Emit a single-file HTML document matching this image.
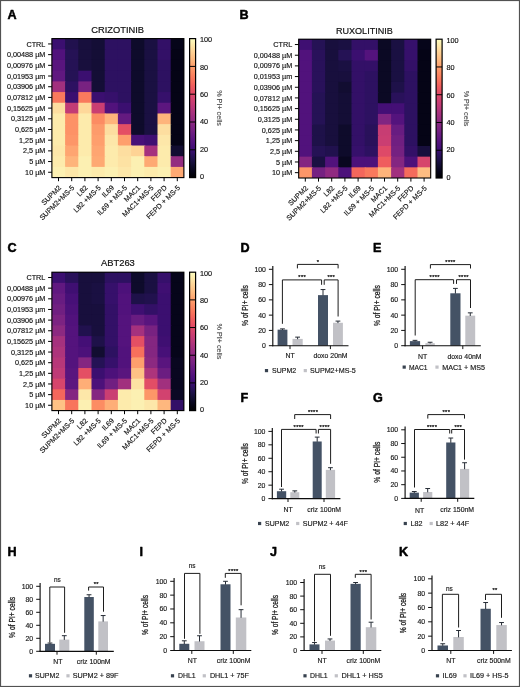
<!DOCTYPE html>
<html lang="en"><head><meta charset="utf-8"><title>Figure</title>
<style>html,body{margin:0;padding:0;background:#fff;}svg{display:block;}text{white-space:pre;}</style>
</head><body>
<svg width="520" height="687" viewBox="0 0 520 687" font-family='"Liberation Sans", Arial, Helvetica, sans-serif'>
<rect x="0.00" y="0.00" width="520.00" height="687.00" fill="#fff"/>
<g>
<rect x="51.90" y="38.60" width="132.00" height="139.00" fill="#1a1040"/>
<rect x="51.90" y="38.60" width="14.20" height="11.69" fill="#3b0f70"/>
<rect x="65.10" y="38.60" width="14.20" height="11.69" fill="#21114e"/>
<rect x="78.30" y="38.60" width="14.20" height="11.69" fill="#180f3d"/>
<rect x="91.50" y="38.60" width="14.20" height="11.69" fill="#140e36"/>
<rect x="104.70" y="38.60" width="14.20" height="11.69" fill="#2d1161"/>
<rect x="117.90" y="38.60" width="14.20" height="11.69" fill="#2d1161"/>
<rect x="131.10" y="38.60" width="14.20" height="11.69" fill="#0e0b2b"/>
<rect x="144.30" y="38.60" width="14.20" height="11.69" fill="#1a1042"/>
<rect x="157.50" y="38.60" width="14.20" height="11.69" fill="#331067"/>
<rect x="170.70" y="38.60" width="13.20" height="11.69" fill="#06051a"/>
<rect x="51.90" y="49.29" width="14.20" height="11.69" fill="#51127c"/>
<rect x="65.10" y="49.29" width="14.20" height="11.69" fill="#251255"/>
<rect x="78.30" y="49.29" width="14.20" height="11.69" fill="#180f3d"/>
<rect x="91.50" y="49.29" width="14.20" height="11.69" fill="#140e36"/>
<rect x="104.70" y="49.29" width="14.20" height="11.69" fill="#2d1161"/>
<rect x="117.90" y="49.29" width="14.20" height="11.69" fill="#2d1161"/>
<rect x="131.10" y="49.29" width="14.20" height="11.69" fill="#0e0b2b"/>
<rect x="144.30" y="49.29" width="14.20" height="11.69" fill="#1a1042"/>
<rect x="157.50" y="49.29" width="14.20" height="11.69" fill="#331067"/>
<rect x="170.70" y="49.29" width="13.20" height="11.69" fill="#050416"/>
<rect x="51.90" y="59.98" width="14.20" height="11.69" fill="#59157e"/>
<rect x="65.10" y="59.98" width="14.20" height="11.69" fill="#251255"/>
<rect x="78.30" y="59.98" width="14.20" height="11.69" fill="#180f3d"/>
<rect x="91.50" y="59.98" width="14.20" height="11.69" fill="#140e36"/>
<rect x="104.70" y="59.98" width="14.20" height="11.69" fill="#2d1161"/>
<rect x="117.90" y="59.98" width="14.20" height="11.69" fill="#2d1161"/>
<rect x="131.10" y="59.98" width="14.20" height="11.69" fill="#0e0b2b"/>
<rect x="144.30" y="59.98" width="14.20" height="11.69" fill="#1a1042"/>
<rect x="157.50" y="59.98" width="14.20" height="11.69" fill="#2d1161"/>
<rect x="170.70" y="59.98" width="13.20" height="11.69" fill="#050416"/>
<rect x="51.90" y="70.68" width="14.20" height="11.69" fill="#601880"/>
<rect x="65.10" y="70.68" width="14.20" height="11.69" fill="#251255"/>
<rect x="78.30" y="70.68" width="14.20" height="11.69" fill="#3b0f70"/>
<rect x="91.50" y="70.68" width="14.20" height="11.69" fill="#140e36"/>
<rect x="104.70" y="70.68" width="14.20" height="11.69" fill="#2d1161"/>
<rect x="117.90" y="70.68" width="14.20" height="11.69" fill="#2d1161"/>
<rect x="131.10" y="70.68" width="14.20" height="11.69" fill="#0e0b2b"/>
<rect x="144.30" y="70.68" width="14.20" height="11.69" fill="#1a1042"/>
<rect x="157.50" y="70.68" width="14.20" height="11.69" fill="#2d1161"/>
<rect x="170.70" y="70.68" width="13.20" height="11.69" fill="#050416"/>
<rect x="51.90" y="81.37" width="14.20" height="11.69" fill="#a1307e"/>
<rect x="65.10" y="81.37" width="14.20" height="11.69" fill="#2d1161"/>
<rect x="78.30" y="81.37" width="14.20" height="11.69" fill="#782281"/>
<rect x="91.50" y="81.37" width="14.20" height="11.69" fill="#140e36"/>
<rect x="104.70" y="81.37" width="14.20" height="11.69" fill="#2d1161"/>
<rect x="117.90" y="81.37" width="14.20" height="11.69" fill="#2d1161"/>
<rect x="131.10" y="81.37" width="14.20" height="11.69" fill="#0e0b2b"/>
<rect x="144.30" y="81.37" width="14.20" height="11.69" fill="#1a1042"/>
<rect x="157.50" y="81.37" width="14.20" height="11.69" fill="#2d1161"/>
<rect x="170.70" y="81.37" width="13.20" height="11.69" fill="#050416"/>
<rect x="51.90" y="92.06" width="14.20" height="11.69" fill="#f9795d"/>
<rect x="65.10" y="92.06" width="14.20" height="11.69" fill="#3b0f70"/>
<rect x="78.30" y="92.06" width="14.20" height="11.69" fill="#f9795d"/>
<rect x="91.50" y="92.06" width="14.20" height="11.69" fill="#3b0f70"/>
<rect x="104.70" y="92.06" width="14.20" height="11.69" fill="#36106b"/>
<rect x="117.90" y="92.06" width="14.20" height="11.69" fill="#2d1161"/>
<rect x="131.10" y="92.06" width="14.20" height="11.69" fill="#0e0b2b"/>
<rect x="144.30" y="92.06" width="14.20" height="11.69" fill="#1a1042"/>
<rect x="157.50" y="92.06" width="14.20" height="11.69" fill="#36106b"/>
<rect x="170.70" y="92.06" width="13.20" height="11.69" fill="#050416"/>
<rect x="51.90" y="102.75" width="14.20" height="11.69" fill="#fddea0"/>
<rect x="65.10" y="102.75" width="14.20" height="11.69" fill="#c23b75"/>
<rect x="78.30" y="102.75" width="14.20" height="11.69" fill="#fed89a"/>
<rect x="91.50" y="102.75" width="14.20" height="11.69" fill="#ca3e72"/>
<rect x="104.70" y="102.75" width="14.20" height="11.69" fill="#51127c"/>
<rect x="117.90" y="102.75" width="14.20" height="11.69" fill="#3b0f70"/>
<rect x="131.10" y="102.75" width="14.20" height="11.69" fill="#0e0b2b"/>
<rect x="144.30" y="102.75" width="14.20" height="11.69" fill="#1a1042"/>
<rect x="157.50" y="102.75" width="14.20" height="11.69" fill="#5c167f"/>
<rect x="170.70" y="102.75" width="13.20" height="11.69" fill="#050416"/>
<rect x="51.90" y="113.45" width="14.20" height="11.69" fill="#fdebac"/>
<rect x="65.10" y="113.45" width="14.20" height="11.69" fill="#fd9266"/>
<rect x="78.30" y="113.45" width="14.20" height="11.69" fill="#fdebac"/>
<rect x="91.50" y="113.45" width="14.20" height="11.69" fill="#fc8c63"/>
<rect x="104.70" y="113.45" width="14.20" height="11.69" fill="#feb47b"/>
<rect x="117.90" y="113.45" width="14.20" height="11.69" fill="#641a80"/>
<rect x="131.10" y="113.45" width="14.20" height="11.69" fill="#0e0b2b"/>
<rect x="144.30" y="113.45" width="14.20" height="11.69" fill="#1a1042"/>
<rect x="157.50" y="113.45" width="14.20" height="11.69" fill="#feb47b"/>
<rect x="170.70" y="113.45" width="13.20" height="11.69" fill="#050416"/>
<rect x="51.90" y="124.14" width="14.20" height="11.69" fill="#fdebac"/>
<rect x="65.10" y="124.14" width="14.20" height="11.69" fill="#fd9266"/>
<rect x="78.30" y="124.14" width="14.20" height="11.69" fill="#fdebac"/>
<rect x="91.50" y="124.14" width="14.20" height="11.69" fill="#fd9b6b"/>
<rect x="104.70" y="124.14" width="14.20" height="11.69" fill="#fddea0"/>
<rect x="117.90" y="124.14" width="14.20" height="11.69" fill="#e44f64"/>
<rect x="131.10" y="124.14" width="14.20" height="11.69" fill="#0e0b2b"/>
<rect x="144.30" y="124.14" width="14.20" height="11.69" fill="#1a1042"/>
<rect x="157.50" y="124.14" width="14.20" height="11.69" fill="#fddea0"/>
<rect x="170.70" y="124.14" width="13.20" height="11.69" fill="#050416"/>
<rect x="51.90" y="134.83" width="14.20" height="11.69" fill="#fdebac"/>
<rect x="65.10" y="134.83" width="14.20" height="11.69" fill="#fd9668"/>
<rect x="78.30" y="134.83" width="14.20" height="11.69" fill="#fdebac"/>
<rect x="91.50" y="134.83" width="14.20" height="11.69" fill="#fe9f6d"/>
<rect x="104.70" y="134.83" width="14.20" height="11.69" fill="#fde7a9"/>
<rect x="117.90" y="134.83" width="14.20" height="11.69" fill="#fe9f6d"/>
<rect x="131.10" y="134.83" width="14.20" height="11.69" fill="#471078"/>
<rect x="144.30" y="134.83" width="14.20" height="11.69" fill="#3f0f72"/>
<rect x="157.50" y="134.83" width="14.20" height="11.69" fill="#fde7a9"/>
<rect x="170.70" y="134.83" width="13.20" height="11.69" fill="#050416"/>
<rect x="51.90" y="145.52" width="14.20" height="11.69" fill="#fde7a9"/>
<rect x="65.10" y="145.52" width="14.20" height="11.69" fill="#fea571"/>
<rect x="78.30" y="145.52" width="14.20" height="11.69" fill="#fdebac"/>
<rect x="91.50" y="145.52" width="14.20" height="11.69" fill="#fea571"/>
<rect x="104.70" y="145.52" width="14.20" height="11.69" fill="#fdebac"/>
<rect x="117.90" y="145.52" width="14.20" height="11.69" fill="#fddea0"/>
<rect x="131.10" y="145.52" width="14.20" height="11.69" fill="#fed395"/>
<rect x="144.30" y="145.52" width="14.20" height="11.69" fill="#a5317e"/>
<rect x="157.50" y="145.52" width="14.20" height="11.69" fill="#fdebac"/>
<rect x="170.70" y="145.52" width="13.20" height="11.69" fill="#120d31"/>
<rect x="51.90" y="156.22" width="14.20" height="11.69" fill="#fdebac"/>
<rect x="65.10" y="156.22" width="14.20" height="11.69" fill="#feb47b"/>
<rect x="78.30" y="156.22" width="14.20" height="11.69" fill="#fcf0b2"/>
<rect x="91.50" y="156.22" width="14.20" height="11.69" fill="#fea973"/>
<rect x="104.70" y="156.22" width="14.20" height="11.69" fill="#fdebac"/>
<rect x="117.90" y="156.22" width="14.20" height="11.69" fill="#fde2a3"/>
<rect x="131.10" y="156.22" width="14.20" height="11.69" fill="#fcf0b2"/>
<rect x="144.30" y="156.22" width="14.20" height="11.69" fill="#fea973"/>
<rect x="157.50" y="156.22" width="14.20" height="11.69" fill="#fdebac"/>
<rect x="170.70" y="156.22" width="13.20" height="11.69" fill="#942c80"/>
<rect x="51.90" y="166.91" width="14.20" height="10.69" fill="#fcf0b2"/>
<rect x="65.10" y="166.91" width="14.20" height="10.69" fill="#fde7a9"/>
<rect x="78.30" y="166.91" width="14.20" height="10.69" fill="#fcf0b2"/>
<rect x="91.50" y="166.91" width="14.20" height="10.69" fill="#fdebac"/>
<rect x="104.70" y="166.91" width="14.20" height="10.69" fill="#fcf0b2"/>
<rect x="117.90" y="166.91" width="14.20" height="10.69" fill="#fde7a9"/>
<rect x="131.10" y="166.91" width="14.20" height="10.69" fill="#fcf0b2"/>
<rect x="144.30" y="166.91" width="14.20" height="10.69" fill="#fdebac"/>
<rect x="157.50" y="166.91" width="14.20" height="10.69" fill="#fcf0b2"/>
<rect x="170.70" y="166.91" width="13.20" height="10.69" fill="#fea973"/>
<rect x="51.90" y="38.60" width="132.00" height="139.00" fill="none" stroke="#000" stroke-width="1.1"/>
<line x1="48.10" y1="43.95" x2="51.90" y2="43.95" stroke="#000" stroke-width="1.0" stroke-linecap="butt"/>
<text x="45.40" y="46.55" font-size="7.25" text-anchor="end" fill="#111" font-weight="normal" stroke="#111" stroke-width="0.15">CTRL</text>
<line x1="48.10" y1="54.64" x2="51.90" y2="54.64" stroke="#000" stroke-width="1.0" stroke-linecap="butt"/>
<text x="45.40" y="57.24" font-size="7.25" text-anchor="end" fill="#111" font-weight="normal" stroke="#111" stroke-width="0.15">0,00488 µM</text>
<line x1="48.10" y1="65.33" x2="51.90" y2="65.33" stroke="#000" stroke-width="1.0" stroke-linecap="butt"/>
<text x="45.40" y="67.93" font-size="7.25" text-anchor="end" fill="#111" font-weight="normal" stroke="#111" stroke-width="0.15">0,00976 µM</text>
<line x1="48.10" y1="76.02" x2="51.90" y2="76.02" stroke="#000" stroke-width="1.0" stroke-linecap="butt"/>
<text x="45.40" y="78.62" font-size="7.25" text-anchor="end" fill="#111" font-weight="normal" stroke="#111" stroke-width="0.15">0,01953 µm</text>
<line x1="48.10" y1="86.72" x2="51.90" y2="86.72" stroke="#000" stroke-width="1.0" stroke-linecap="butt"/>
<text x="45.40" y="89.32" font-size="7.25" text-anchor="end" fill="#111" font-weight="normal" stroke="#111" stroke-width="0.15">0,03906 µM</text>
<line x1="48.10" y1="97.41" x2="51.90" y2="97.41" stroke="#000" stroke-width="1.0" stroke-linecap="butt"/>
<text x="45.40" y="100.01" font-size="7.25" text-anchor="end" fill="#111" font-weight="normal" stroke="#111" stroke-width="0.15">0,07812 µM</text>
<line x1="48.10" y1="108.10" x2="51.90" y2="108.10" stroke="#000" stroke-width="1.0" stroke-linecap="butt"/>
<text x="45.40" y="110.70" font-size="7.25" text-anchor="end" fill="#111" font-weight="normal" stroke="#111" stroke-width="0.15">0,15625 µM</text>
<line x1="48.10" y1="118.79" x2="51.90" y2="118.79" stroke="#000" stroke-width="1.0" stroke-linecap="butt"/>
<text x="45.40" y="121.39" font-size="7.25" text-anchor="end" fill="#111" font-weight="normal" stroke="#111" stroke-width="0.15">0,3125 µM</text>
<line x1="48.10" y1="129.48" x2="51.90" y2="129.48" stroke="#000" stroke-width="1.0" stroke-linecap="butt"/>
<text x="45.40" y="132.08" font-size="7.25" text-anchor="end" fill="#111" font-weight="normal" stroke="#111" stroke-width="0.15">0,625 µM</text>
<line x1="48.10" y1="140.18" x2="51.90" y2="140.18" stroke="#000" stroke-width="1.0" stroke-linecap="butt"/>
<text x="45.40" y="142.78" font-size="7.25" text-anchor="end" fill="#111" font-weight="normal" stroke="#111" stroke-width="0.15">1,25 µM</text>
<line x1="48.10" y1="150.87" x2="51.90" y2="150.87" stroke="#000" stroke-width="1.0" stroke-linecap="butt"/>
<text x="45.40" y="153.47" font-size="7.25" text-anchor="end" fill="#111" font-weight="normal" stroke="#111" stroke-width="0.15">2,5 µM</text>
<line x1="48.10" y1="161.56" x2="51.90" y2="161.56" stroke="#000" stroke-width="1.0" stroke-linecap="butt"/>
<text x="45.40" y="164.16" font-size="7.25" text-anchor="end" fill="#111" font-weight="normal" stroke="#111" stroke-width="0.15">5 µM</text>
<line x1="48.10" y1="172.25" x2="51.90" y2="172.25" stroke="#000" stroke-width="1.0" stroke-linecap="butt"/>
<text x="45.40" y="174.85" font-size="7.25" text-anchor="end" fill="#111" font-weight="normal" stroke="#111" stroke-width="0.15">10 µM</text>
<line x1="58.50" y1="177.60" x2="58.50" y2="181.20" stroke="#000" stroke-width="1.0" stroke-linecap="butt"/>
<text x="61.70" y="188.20" font-size="7.15" text-anchor="end" fill="#111" font-weight="normal" transform="rotate(-45 61.70 188.20)" stroke="#111" stroke-width="0.15">SUPM2</text>
<line x1="71.70" y1="177.60" x2="71.70" y2="181.20" stroke="#000" stroke-width="1.0" stroke-linecap="butt"/>
<text x="74.90" y="188.20" font-size="7.15" text-anchor="end" fill="#111" font-weight="normal" transform="rotate(-45 74.90 188.20)" stroke="#111" stroke-width="0.15">SUPM2+MS-5</text>
<line x1="84.90" y1="177.60" x2="84.90" y2="181.20" stroke="#000" stroke-width="1.0" stroke-linecap="butt"/>
<text x="88.10" y="188.20" font-size="7.15" text-anchor="end" fill="#111" font-weight="normal" transform="rotate(-45 88.10 188.20)" stroke="#111" stroke-width="0.15">L82</text>
<line x1="98.10" y1="177.60" x2="98.10" y2="181.20" stroke="#000" stroke-width="1.0" stroke-linecap="butt"/>
<text x="101.30" y="188.20" font-size="7.15" text-anchor="end" fill="#111" font-weight="normal" transform="rotate(-45 101.30 188.20)" stroke="#111" stroke-width="0.15">L82 +MS-5</text>
<line x1="111.30" y1="177.60" x2="111.30" y2="181.20" stroke="#000" stroke-width="1.0" stroke-linecap="butt"/>
<text x="114.50" y="188.20" font-size="7.15" text-anchor="end" fill="#111" font-weight="normal" transform="rotate(-45 114.50 188.20)" stroke="#111" stroke-width="0.15">IL69</text>
<line x1="124.50" y1="177.60" x2="124.50" y2="181.20" stroke="#000" stroke-width="1.0" stroke-linecap="butt"/>
<text x="127.70" y="188.20" font-size="7.15" text-anchor="end" fill="#111" font-weight="normal" transform="rotate(-45 127.70 188.20)" stroke="#111" stroke-width="0.15">IL69 + MS-5</text>
<line x1="137.70" y1="177.60" x2="137.70" y2="181.20" stroke="#000" stroke-width="1.0" stroke-linecap="butt"/>
<text x="140.90" y="188.20" font-size="7.15" text-anchor="end" fill="#111" font-weight="normal" transform="rotate(-45 140.90 188.20)" stroke="#111" stroke-width="0.15">MAC1</text>
<line x1="150.90" y1="177.60" x2="150.90" y2="181.20" stroke="#000" stroke-width="1.0" stroke-linecap="butt"/>
<text x="154.10" y="188.20" font-size="7.15" text-anchor="end" fill="#111" font-weight="normal" transform="rotate(-45 154.10 188.20)" stroke="#111" stroke-width="0.15">MAC1+MS-5</text>
<line x1="164.10" y1="177.60" x2="164.10" y2="181.20" stroke="#000" stroke-width="1.0" stroke-linecap="butt"/>
<text x="167.30" y="188.20" font-size="7.15" text-anchor="end" fill="#111" font-weight="normal" transform="rotate(-45 167.30 188.20)" stroke="#111" stroke-width="0.15">FEPD</text>
<line x1="177.30" y1="177.60" x2="177.30" y2="181.20" stroke="#000" stroke-width="1.0" stroke-linecap="butt"/>
<text x="180.50" y="188.20" font-size="7.15" text-anchor="end" fill="#111" font-weight="normal" transform="rotate(-45 180.50 188.20)" stroke="#111" stroke-width="0.15">FEPD + MS-5</text>
<text x="117.70" y="33.30" font-size="9.9" text-anchor="middle" fill="#111" font-weight="normal" textLength="52.80" lengthAdjust="spacingAndGlyphs" stroke="#111" stroke-width="0.2">CRIZOTINIB</text>
<defs><linearGradient id="gA" x1="0" y1="0" x2="0" y2="1"><stop offset="0.000" stop-color="#fcfdbf"/><stop offset="0.020" stop-color="#fcf4b6"/><stop offset="0.040" stop-color="#fdebac"/><stop offset="0.060" stop-color="#fde2a3"/><stop offset="0.080" stop-color="#fed89a"/><stop offset="0.100" stop-color="#fecf92"/><stop offset="0.120" stop-color="#fec68a"/><stop offset="0.140" stop-color="#febd82"/><stop offset="0.160" stop-color="#feb47b"/><stop offset="0.180" stop-color="#fea973"/><stop offset="0.200" stop-color="#fe9f6d"/><stop offset="0.220" stop-color="#fd9668"/><stop offset="0.240" stop-color="#fc8c63"/><stop offset="0.260" stop-color="#fb835f"/><stop offset="0.280" stop-color="#f9795d"/><stop offset="0.300" stop-color="#f7705c"/><stop offset="0.320" stop-color="#f4675c"/><stop offset="0.340" stop-color="#ef5d5e"/><stop offset="0.360" stop-color="#ea5661"/><stop offset="0.380" stop-color="#e44f64"/><stop offset="0.400" stop-color="#de4968"/><stop offset="0.420" stop-color="#d6456c"/><stop offset="0.440" stop-color="#cf4070"/><stop offset="0.460" stop-color="#c73d73"/><stop offset="0.480" stop-color="#bf3a77"/><stop offset="0.500" stop-color="#b73779"/><stop offset="0.520" stop-color="#ad347c"/><stop offset="0.540" stop-color="#a5317e"/><stop offset="0.560" stop-color="#9c2e7f"/><stop offset="0.580" stop-color="#942c80"/><stop offset="0.600" stop-color="#8c2981"/><stop offset="0.620" stop-color="#842681"/><stop offset="0.640" stop-color="#7c2382"/><stop offset="0.660" stop-color="#752181"/><stop offset="0.680" stop-color="#6b1d81"/><stop offset="0.700" stop-color="#641a80"/><stop offset="0.720" stop-color="#5c167f"/><stop offset="0.740" stop-color="#54137d"/><stop offset="0.760" stop-color="#4c117a"/><stop offset="0.780" stop-color="#440f76"/><stop offset="0.800" stop-color="#3b0f70"/><stop offset="0.820" stop-color="#331067"/><stop offset="0.840" stop-color="#29115a"/><stop offset="0.860" stop-color="#21114e"/><stop offset="0.880" stop-color="#1a1042"/><stop offset="0.900" stop-color="#140e36"/><stop offset="0.920" stop-color="#0e0b2b"/><stop offset="0.940" stop-color="#090720"/><stop offset="0.960" stop-color="#050416"/><stop offset="0.980" stop-color="#02020b"/><stop offset="1.000" stop-color="#000004"/></linearGradient></defs>
<rect x="189.60" y="38.60" width="6.00" height="139.00" fill="url(#gA)" stroke="#000" stroke-width="1.2"/>
<text x="199.90" y="179.10" font-size="7.3" text-anchor="start" fill="#111" font-weight="normal" stroke="#111" stroke-width="0.15">0</text>
<line x1="189.60" y1="149.80" x2="195.60" y2="149.80" stroke="#000" stroke-width="1.0" stroke-linecap="butt"/>
<text x="199.90" y="151.74" font-size="7.3" text-anchor="start" fill="#111" font-weight="normal" stroke="#111" stroke-width="0.15">20</text>
<line x1="189.60" y1="122.00" x2="195.60" y2="122.00" stroke="#000" stroke-width="1.0" stroke-linecap="butt"/>
<text x="199.90" y="124.38" font-size="7.3" text-anchor="start" fill="#111" font-weight="normal" stroke="#111" stroke-width="0.15">40</text>
<line x1="189.60" y1="94.20" x2="195.60" y2="94.20" stroke="#000" stroke-width="1.0" stroke-linecap="butt"/>
<text x="199.90" y="97.02" font-size="7.3" text-anchor="start" fill="#111" font-weight="normal" stroke="#111" stroke-width="0.15">60</text>
<line x1="189.60" y1="66.40" x2="195.60" y2="66.40" stroke="#000" stroke-width="1.0" stroke-linecap="butt"/>
<text x="199.90" y="69.66" font-size="7.3" text-anchor="start" fill="#111" font-weight="normal" stroke="#111" stroke-width="0.15">80</text>
<text x="199.90" y="42.30" font-size="7.3" text-anchor="start" fill="#111" font-weight="normal" stroke="#111" stroke-width="0.15">100</text>
<text x="217.40" y="108.10" font-size="7.2" text-anchor="middle" fill="#4a4a4a" font-weight="normal" transform="rotate(90 217.40 108.10)" stroke="#4a4a4a" stroke-width="0.12">% PI+ cells</text>
</g>
<g>
<rect x="298.70" y="39.20" width="132.00" height="138.80" fill="#1a1040"/>
<rect x="298.70" y="39.20" width="14.20" height="11.68" fill="#3f0f72"/>
<rect x="311.90" y="39.20" width="14.20" height="11.68" fill="#251255"/>
<rect x="325.10" y="39.20" width="14.20" height="11.68" fill="#180f3d"/>
<rect x="338.30" y="39.20" width="14.20" height="11.68" fill="#1a1042"/>
<rect x="351.50" y="39.20" width="14.20" height="11.68" fill="#331067"/>
<rect x="364.70" y="39.20" width="14.20" height="11.68" fill="#331067"/>
<rect x="377.90" y="39.20" width="14.20" height="11.68" fill="#0b0924"/>
<rect x="391.10" y="39.20" width="14.20" height="11.68" fill="#1a1042"/>
<rect x="404.30" y="39.20" width="14.20" height="11.68" fill="#36106b"/>
<rect x="417.50" y="39.20" width="13.20" height="11.68" fill="#06051a"/>
<rect x="298.70" y="49.88" width="14.20" height="11.68" fill="#51127c"/>
<rect x="311.90" y="49.88" width="14.20" height="11.68" fill="#29115a"/>
<rect x="325.10" y="49.88" width="14.20" height="11.68" fill="#180f3d"/>
<rect x="338.30" y="49.88" width="14.20" height="11.68" fill="#251255"/>
<rect x="351.50" y="49.88" width="14.20" height="11.68" fill="#3b0f70"/>
<rect x="364.70" y="49.88" width="14.20" height="11.68" fill="#54137d"/>
<rect x="377.90" y="49.88" width="14.20" height="11.68" fill="#0b0924"/>
<rect x="391.10" y="49.88" width="14.20" height="11.68" fill="#1a1042"/>
<rect x="404.30" y="49.88" width="14.20" height="11.68" fill="#36106b"/>
<rect x="417.50" y="49.88" width="13.20" height="11.68" fill="#050416"/>
<rect x="298.70" y="60.55" width="14.20" height="11.68" fill="#51127c"/>
<rect x="311.90" y="60.55" width="14.20" height="11.68" fill="#29115a"/>
<rect x="325.10" y="60.55" width="14.20" height="11.68" fill="#180f3d"/>
<rect x="338.30" y="60.55" width="14.20" height="11.68" fill="#1a1042"/>
<rect x="351.50" y="60.55" width="14.20" height="11.68" fill="#331067"/>
<rect x="364.70" y="60.55" width="14.20" height="11.68" fill="#331067"/>
<rect x="377.90" y="60.55" width="14.20" height="11.68" fill="#0b0924"/>
<rect x="391.10" y="60.55" width="14.20" height="11.68" fill="#1a1042"/>
<rect x="404.30" y="60.55" width="14.20" height="11.68" fill="#331067"/>
<rect x="417.50" y="60.55" width="13.20" height="11.68" fill="#050416"/>
<rect x="298.70" y="71.23" width="14.20" height="11.68" fill="#51127c"/>
<rect x="311.90" y="71.23" width="14.20" height="11.68" fill="#29115a"/>
<rect x="325.10" y="71.23" width="14.20" height="11.68" fill="#180f3d"/>
<rect x="338.30" y="71.23" width="14.20" height="11.68" fill="#180f3d"/>
<rect x="351.50" y="71.23" width="14.20" height="11.68" fill="#331067"/>
<rect x="364.70" y="71.23" width="14.20" height="11.68" fill="#2d1161"/>
<rect x="377.90" y="71.23" width="14.20" height="11.68" fill="#0b0924"/>
<rect x="391.10" y="71.23" width="14.20" height="11.68" fill="#1a1042"/>
<rect x="404.30" y="71.23" width="14.20" height="11.68" fill="#2d1161"/>
<rect x="417.50" y="71.23" width="13.20" height="11.68" fill="#050416"/>
<rect x="298.70" y="81.91" width="14.20" height="11.68" fill="#51127c"/>
<rect x="311.90" y="81.91" width="14.20" height="11.68" fill="#29115a"/>
<rect x="325.10" y="81.91" width="14.20" height="11.68" fill="#180f3d"/>
<rect x="338.30" y="81.91" width="14.20" height="11.68" fill="#120d31"/>
<rect x="351.50" y="81.91" width="14.20" height="11.68" fill="#331067"/>
<rect x="364.70" y="81.91" width="14.20" height="11.68" fill="#2d1161"/>
<rect x="377.90" y="81.91" width="14.20" height="11.68" fill="#0b0924"/>
<rect x="391.10" y="81.91" width="14.20" height="11.68" fill="#1e1149"/>
<rect x="404.30" y="81.91" width="14.20" height="11.68" fill="#2d1161"/>
<rect x="417.50" y="81.91" width="13.20" height="11.68" fill="#050416"/>
<rect x="298.70" y="92.58" width="14.20" height="11.68" fill="#51127c"/>
<rect x="311.90" y="92.58" width="14.20" height="11.68" fill="#251255"/>
<rect x="325.10" y="92.58" width="14.20" height="11.68" fill="#180f3d"/>
<rect x="338.30" y="92.58" width="14.20" height="11.68" fill="#140e36"/>
<rect x="351.50" y="92.58" width="14.20" height="11.68" fill="#331067"/>
<rect x="364.70" y="92.58" width="14.20" height="11.68" fill="#2d1161"/>
<rect x="377.90" y="92.58" width="14.20" height="11.68" fill="#0b0924"/>
<rect x="391.10" y="92.58" width="14.20" height="11.68" fill="#29115a"/>
<rect x="404.30" y="92.58" width="14.20" height="11.68" fill="#2d1161"/>
<rect x="417.50" y="92.58" width="13.20" height="11.68" fill="#050416"/>
<rect x="298.70" y="103.26" width="14.20" height="11.68" fill="#51127c"/>
<rect x="311.90" y="103.26" width="14.20" height="11.68" fill="#251255"/>
<rect x="325.10" y="103.26" width="14.20" height="11.68" fill="#180f3d"/>
<rect x="338.30" y="103.26" width="14.20" height="11.68" fill="#140e36"/>
<rect x="351.50" y="103.26" width="14.20" height="11.68" fill="#331067"/>
<rect x="364.70" y="103.26" width="14.20" height="11.68" fill="#2d1161"/>
<rect x="377.90" y="103.26" width="14.20" height="11.68" fill="#440f76"/>
<rect x="391.10" y="103.26" width="14.20" height="11.68" fill="#440f76"/>
<rect x="404.30" y="103.26" width="14.20" height="11.68" fill="#2d1161"/>
<rect x="417.50" y="103.26" width="13.20" height="11.68" fill="#050416"/>
<rect x="298.70" y="113.94" width="14.20" height="11.68" fill="#51127c"/>
<rect x="311.90" y="113.94" width="14.20" height="11.68" fill="#251255"/>
<rect x="325.10" y="113.94" width="14.20" height="11.68" fill="#180f3d"/>
<rect x="338.30" y="113.94" width="14.20" height="11.68" fill="#140e36"/>
<rect x="351.50" y="113.94" width="14.20" height="11.68" fill="#331067"/>
<rect x="364.70" y="113.94" width="14.20" height="11.68" fill="#2d1161"/>
<rect x="377.90" y="113.94" width="14.20" height="11.68" fill="#802582"/>
<rect x="391.10" y="113.94" width="14.20" height="11.68" fill="#54137d"/>
<rect x="404.30" y="113.94" width="14.20" height="11.68" fill="#2d1161"/>
<rect x="417.50" y="113.94" width="13.20" height="11.68" fill="#050416"/>
<rect x="298.70" y="124.62" width="14.20" height="11.68" fill="#51127c"/>
<rect x="311.90" y="124.62" width="14.20" height="11.68" fill="#1e1149"/>
<rect x="325.10" y="124.62" width="14.20" height="11.68" fill="#180f3d"/>
<rect x="338.30" y="124.62" width="14.20" height="11.68" fill="#0e0b2b"/>
<rect x="351.50" y="124.62" width="14.20" height="11.68" fill="#331067"/>
<rect x="364.70" y="124.62" width="14.20" height="11.68" fill="#29115a"/>
<rect x="377.90" y="124.62" width="14.20" height="11.68" fill="#c73d73"/>
<rect x="391.10" y="124.62" width="14.20" height="11.68" fill="#681c81"/>
<rect x="404.30" y="124.62" width="14.20" height="11.68" fill="#2d1161"/>
<rect x="417.50" y="124.62" width="13.20" height="11.68" fill="#050416"/>
<rect x="298.70" y="135.29" width="14.20" height="11.68" fill="#51127c"/>
<rect x="311.90" y="135.29" width="14.20" height="11.68" fill="#1e1149"/>
<rect x="325.10" y="135.29" width="14.20" height="11.68" fill="#180f3d"/>
<rect x="338.30" y="135.29" width="14.20" height="11.68" fill="#0e0b2b"/>
<rect x="351.50" y="135.29" width="14.20" height="11.68" fill="#331067"/>
<rect x="364.70" y="135.29" width="14.20" height="11.68" fill="#29115a"/>
<rect x="377.90" y="135.29" width="14.20" height="11.68" fill="#ca3e72"/>
<rect x="391.10" y="135.29" width="14.20" height="11.68" fill="#701f81"/>
<rect x="404.30" y="135.29" width="14.20" height="11.68" fill="#2d1161"/>
<rect x="417.50" y="135.29" width="13.20" height="11.68" fill="#050416"/>
<rect x="298.70" y="145.97" width="14.20" height="11.68" fill="#51127c"/>
<rect x="311.90" y="145.97" width="14.20" height="11.68" fill="#251255"/>
<rect x="325.10" y="145.97" width="14.20" height="11.68" fill="#21114e"/>
<rect x="338.30" y="145.97" width="14.20" height="11.68" fill="#0e0b2b"/>
<rect x="351.50" y="145.97" width="14.20" height="11.68" fill="#36106b"/>
<rect x="364.70" y="145.97" width="14.20" height="11.68" fill="#2d1161"/>
<rect x="377.90" y="145.97" width="14.20" height="11.68" fill="#de4968"/>
<rect x="391.10" y="145.97" width="14.20" height="11.68" fill="#752181"/>
<rect x="404.30" y="145.97" width="14.20" height="11.68" fill="#331067"/>
<rect x="417.50" y="145.97" width="13.20" height="11.68" fill="#180f3d"/>
<rect x="298.70" y="156.65" width="14.20" height="11.68" fill="#842681"/>
<rect x="311.90" y="156.65" width="14.20" height="11.68" fill="#1a1042"/>
<rect x="325.10" y="156.65" width="14.20" height="11.68" fill="#51127c"/>
<rect x="338.30" y="156.65" width="14.20" height="11.68" fill="#090720"/>
<rect x="351.50" y="156.65" width="14.20" height="11.68" fill="#4c117a"/>
<rect x="364.70" y="156.65" width="14.20" height="11.68" fill="#4c117a"/>
<rect x="377.90" y="156.65" width="14.20" height="11.68" fill="#ef5d5e"/>
<rect x="391.10" y="156.65" width="14.20" height="11.68" fill="#842681"/>
<rect x="404.30" y="156.65" width="14.20" height="11.68" fill="#4c117a"/>
<rect x="417.50" y="156.65" width="13.20" height="11.68" fill="#d6456c"/>
<rect x="298.70" y="167.32" width="14.20" height="10.68" fill="#fd9668"/>
<rect x="311.90" y="167.32" width="14.20" height="10.68" fill="#752181"/>
<rect x="325.10" y="167.32" width="14.20" height="10.68" fill="#902a81"/>
<rect x="338.30" y="167.32" width="14.20" height="10.68" fill="#4c117a"/>
<rect x="351.50" y="167.32" width="14.20" height="10.68" fill="#f4675c"/>
<rect x="364.70" y="167.32" width="14.20" height="10.68" fill="#f9795d"/>
<rect x="377.90" y="167.32" width="14.20" height="10.68" fill="#feb47b"/>
<rect x="391.10" y="167.32" width="14.20" height="10.68" fill="#a1307e"/>
<rect x="404.30" y="167.32" width="14.20" height="10.68" fill="#f56b5c"/>
<rect x="417.50" y="167.32" width="13.20" height="10.68" fill="#febd82"/>
<rect x="298.70" y="39.20" width="132.00" height="138.80" fill="none" stroke="#000" stroke-width="1.1"/>
<line x1="294.90" y1="44.54" x2="298.70" y2="44.54" stroke="#000" stroke-width="1.0" stroke-linecap="butt"/>
<text x="292.20" y="47.14" font-size="7.25" text-anchor="end" fill="#111" font-weight="normal" stroke="#111" stroke-width="0.15">CTRL</text>
<line x1="294.90" y1="55.22" x2="298.70" y2="55.22" stroke="#000" stroke-width="1.0" stroke-linecap="butt"/>
<text x="292.20" y="57.82" font-size="7.25" text-anchor="end" fill="#111" font-weight="normal" stroke="#111" stroke-width="0.15">0,00488 µM</text>
<line x1="294.90" y1="65.89" x2="298.70" y2="65.89" stroke="#000" stroke-width="1.0" stroke-linecap="butt"/>
<text x="292.20" y="68.49" font-size="7.25" text-anchor="end" fill="#111" font-weight="normal" stroke="#111" stroke-width="0.15">0,00976 µM</text>
<line x1="294.90" y1="76.57" x2="298.70" y2="76.57" stroke="#000" stroke-width="1.0" stroke-linecap="butt"/>
<text x="292.20" y="79.17" font-size="7.25" text-anchor="end" fill="#111" font-weight="normal" stroke="#111" stroke-width="0.15">0,01953 µm</text>
<line x1="294.90" y1="87.25" x2="298.70" y2="87.25" stroke="#000" stroke-width="1.0" stroke-linecap="butt"/>
<text x="292.20" y="89.85" font-size="7.25" text-anchor="end" fill="#111" font-weight="normal" stroke="#111" stroke-width="0.15">0,03906 µM</text>
<line x1="294.90" y1="97.92" x2="298.70" y2="97.92" stroke="#000" stroke-width="1.0" stroke-linecap="butt"/>
<text x="292.20" y="100.52" font-size="7.25" text-anchor="end" fill="#111" font-weight="normal" stroke="#111" stroke-width="0.15">0,07812 µM</text>
<line x1="294.90" y1="108.60" x2="298.70" y2="108.60" stroke="#000" stroke-width="1.0" stroke-linecap="butt"/>
<text x="292.20" y="111.20" font-size="7.25" text-anchor="end" fill="#111" font-weight="normal" stroke="#111" stroke-width="0.15">0,15625 µM</text>
<line x1="294.90" y1="119.28" x2="298.70" y2="119.28" stroke="#000" stroke-width="1.0" stroke-linecap="butt"/>
<text x="292.20" y="121.88" font-size="7.25" text-anchor="end" fill="#111" font-weight="normal" stroke="#111" stroke-width="0.15">0,3125 µM</text>
<line x1="294.90" y1="129.95" x2="298.70" y2="129.95" stroke="#000" stroke-width="1.0" stroke-linecap="butt"/>
<text x="292.20" y="132.55" font-size="7.25" text-anchor="end" fill="#111" font-weight="normal" stroke="#111" stroke-width="0.15">0,625 µM</text>
<line x1="294.90" y1="140.63" x2="298.70" y2="140.63" stroke="#000" stroke-width="1.0" stroke-linecap="butt"/>
<text x="292.20" y="143.23" font-size="7.25" text-anchor="end" fill="#111" font-weight="normal" stroke="#111" stroke-width="0.15">1,25 µM</text>
<line x1="294.90" y1="151.31" x2="298.70" y2="151.31" stroke="#000" stroke-width="1.0" stroke-linecap="butt"/>
<text x="292.20" y="153.91" font-size="7.25" text-anchor="end" fill="#111" font-weight="normal" stroke="#111" stroke-width="0.15">2,5 µM</text>
<line x1="294.90" y1="161.98" x2="298.70" y2="161.98" stroke="#000" stroke-width="1.0" stroke-linecap="butt"/>
<text x="292.20" y="164.58" font-size="7.25" text-anchor="end" fill="#111" font-weight="normal" stroke="#111" stroke-width="0.15">5 µM</text>
<line x1="294.90" y1="172.66" x2="298.70" y2="172.66" stroke="#000" stroke-width="1.0" stroke-linecap="butt"/>
<text x="292.20" y="175.26" font-size="7.25" text-anchor="end" fill="#111" font-weight="normal" stroke="#111" stroke-width="0.15">10 µM</text>
<line x1="305.30" y1="178.00" x2="305.30" y2="181.60" stroke="#000" stroke-width="1.0" stroke-linecap="butt"/>
<text x="308.50" y="188.60" font-size="7.15" text-anchor="end" fill="#111" font-weight="normal" transform="rotate(-45 308.50 188.60)" stroke="#111" stroke-width="0.15">SUPM2</text>
<line x1="318.50" y1="178.00" x2="318.50" y2="181.60" stroke="#000" stroke-width="1.0" stroke-linecap="butt"/>
<text x="321.70" y="188.60" font-size="7.15" text-anchor="end" fill="#111" font-weight="normal" transform="rotate(-45 321.70 188.60)" stroke="#111" stroke-width="0.15">SUPM2+MS-5</text>
<line x1="331.70" y1="178.00" x2="331.70" y2="181.60" stroke="#000" stroke-width="1.0" stroke-linecap="butt"/>
<text x="334.90" y="188.60" font-size="7.15" text-anchor="end" fill="#111" font-weight="normal" transform="rotate(-45 334.90 188.60)" stroke="#111" stroke-width="0.15">L82</text>
<line x1="344.90" y1="178.00" x2="344.90" y2="181.60" stroke="#000" stroke-width="1.0" stroke-linecap="butt"/>
<text x="348.10" y="188.60" font-size="7.15" text-anchor="end" fill="#111" font-weight="normal" transform="rotate(-45 348.10 188.60)" stroke="#111" stroke-width="0.15">L82 +MS-5</text>
<line x1="358.10" y1="178.00" x2="358.10" y2="181.60" stroke="#000" stroke-width="1.0" stroke-linecap="butt"/>
<text x="361.30" y="188.60" font-size="7.15" text-anchor="end" fill="#111" font-weight="normal" transform="rotate(-45 361.30 188.60)" stroke="#111" stroke-width="0.15">IL69</text>
<line x1="371.30" y1="178.00" x2="371.30" y2="181.60" stroke="#000" stroke-width="1.0" stroke-linecap="butt"/>
<text x="374.50" y="188.60" font-size="7.15" text-anchor="end" fill="#111" font-weight="normal" transform="rotate(-45 374.50 188.60)" stroke="#111" stroke-width="0.15">IL69 + MS-5</text>
<line x1="384.50" y1="178.00" x2="384.50" y2="181.60" stroke="#000" stroke-width="1.0" stroke-linecap="butt"/>
<text x="387.70" y="188.60" font-size="7.15" text-anchor="end" fill="#111" font-weight="normal" transform="rotate(-45 387.70 188.60)" stroke="#111" stroke-width="0.15">MAC1</text>
<line x1="397.70" y1="178.00" x2="397.70" y2="181.60" stroke="#000" stroke-width="1.0" stroke-linecap="butt"/>
<text x="400.90" y="188.60" font-size="7.15" text-anchor="end" fill="#111" font-weight="normal" transform="rotate(-45 400.90 188.60)" stroke="#111" stroke-width="0.15">MAC1+MS-5</text>
<line x1="410.90" y1="178.00" x2="410.90" y2="181.60" stroke="#000" stroke-width="1.0" stroke-linecap="butt"/>
<text x="414.10" y="188.60" font-size="7.15" text-anchor="end" fill="#111" font-weight="normal" transform="rotate(-45 414.10 188.60)" stroke="#111" stroke-width="0.15">FEPD</text>
<line x1="424.10" y1="178.00" x2="424.10" y2="181.60" stroke="#000" stroke-width="1.0" stroke-linecap="butt"/>
<text x="427.30" y="188.60" font-size="7.15" text-anchor="end" fill="#111" font-weight="normal" transform="rotate(-45 427.30 188.60)" stroke="#111" stroke-width="0.15">FEPD + MS-5</text>
<text x="364.40" y="33.70" font-size="9.9" text-anchor="middle" fill="#111" font-weight="normal" textLength="57.00" lengthAdjust="spacingAndGlyphs" stroke="#111" stroke-width="0.2">RUXOLITINIB</text>
<defs><linearGradient id="gB" x1="0" y1="0" x2="0" y2="1"><stop offset="0.000" stop-color="#fcfdbf"/><stop offset="0.020" stop-color="#fcf4b6"/><stop offset="0.040" stop-color="#fdebac"/><stop offset="0.060" stop-color="#fde2a3"/><stop offset="0.080" stop-color="#fed89a"/><stop offset="0.100" stop-color="#fecf92"/><stop offset="0.120" stop-color="#fec68a"/><stop offset="0.140" stop-color="#febd82"/><stop offset="0.160" stop-color="#feb47b"/><stop offset="0.180" stop-color="#fea973"/><stop offset="0.200" stop-color="#fe9f6d"/><stop offset="0.220" stop-color="#fd9668"/><stop offset="0.240" stop-color="#fc8c63"/><stop offset="0.260" stop-color="#fb835f"/><stop offset="0.280" stop-color="#f9795d"/><stop offset="0.300" stop-color="#f7705c"/><stop offset="0.320" stop-color="#f4675c"/><stop offset="0.340" stop-color="#ef5d5e"/><stop offset="0.360" stop-color="#ea5661"/><stop offset="0.380" stop-color="#e44f64"/><stop offset="0.400" stop-color="#de4968"/><stop offset="0.420" stop-color="#d6456c"/><stop offset="0.440" stop-color="#cf4070"/><stop offset="0.460" stop-color="#c73d73"/><stop offset="0.480" stop-color="#bf3a77"/><stop offset="0.500" stop-color="#b73779"/><stop offset="0.520" stop-color="#ad347c"/><stop offset="0.540" stop-color="#a5317e"/><stop offset="0.560" stop-color="#9c2e7f"/><stop offset="0.580" stop-color="#942c80"/><stop offset="0.600" stop-color="#8c2981"/><stop offset="0.620" stop-color="#842681"/><stop offset="0.640" stop-color="#7c2382"/><stop offset="0.660" stop-color="#752181"/><stop offset="0.680" stop-color="#6b1d81"/><stop offset="0.700" stop-color="#641a80"/><stop offset="0.720" stop-color="#5c167f"/><stop offset="0.740" stop-color="#54137d"/><stop offset="0.760" stop-color="#4c117a"/><stop offset="0.780" stop-color="#440f76"/><stop offset="0.800" stop-color="#3b0f70"/><stop offset="0.820" stop-color="#331067"/><stop offset="0.840" stop-color="#29115a"/><stop offset="0.860" stop-color="#21114e"/><stop offset="0.880" stop-color="#1a1042"/><stop offset="0.900" stop-color="#140e36"/><stop offset="0.920" stop-color="#0e0b2b"/><stop offset="0.940" stop-color="#090720"/><stop offset="0.960" stop-color="#050416"/><stop offset="0.980" stop-color="#02020b"/><stop offset="1.000" stop-color="#000004"/></linearGradient></defs>
<rect x="436.10" y="39.20" width="6.00" height="138.80" fill="url(#gB)" stroke="#000" stroke-width="1.2"/>
<text x="446.40" y="179.50" font-size="7.3" text-anchor="start" fill="#111" font-weight="normal" stroke="#111" stroke-width="0.15">0</text>
<line x1="436.10" y1="150.24" x2="442.10" y2="150.24" stroke="#000" stroke-width="1.0" stroke-linecap="butt"/>
<text x="446.40" y="152.18" font-size="7.3" text-anchor="start" fill="#111" font-weight="normal" stroke="#111" stroke-width="0.15">20</text>
<line x1="436.10" y1="122.48" x2="442.10" y2="122.48" stroke="#000" stroke-width="1.0" stroke-linecap="butt"/>
<text x="446.40" y="124.86" font-size="7.3" text-anchor="start" fill="#111" font-weight="normal" stroke="#111" stroke-width="0.15">40</text>
<line x1="436.10" y1="94.72" x2="442.10" y2="94.72" stroke="#000" stroke-width="1.0" stroke-linecap="butt"/>
<text x="446.40" y="97.54" font-size="7.3" text-anchor="start" fill="#111" font-weight="normal" stroke="#111" stroke-width="0.15">60</text>
<line x1="436.10" y1="66.96" x2="442.10" y2="66.96" stroke="#000" stroke-width="1.0" stroke-linecap="butt"/>
<text x="446.40" y="70.22" font-size="7.3" text-anchor="start" fill="#111" font-weight="normal" stroke="#111" stroke-width="0.15">80</text>
<text x="446.40" y="42.90" font-size="7.3" text-anchor="start" fill="#111" font-weight="normal" stroke="#111" stroke-width="0.15">100</text>
<text x="463.90" y="108.60" font-size="7.2" text-anchor="middle" fill="#4a4a4a" font-weight="normal" transform="rotate(90 463.90 108.60)" stroke="#4a4a4a" stroke-width="0.12">% PI+ cells</text>
</g>
<g>
<rect x="51.90" y="272.20" width="132.00" height="138.40" fill="#1a1040"/>
<rect x="51.90" y="272.20" width="14.20" height="11.65" fill="#3b0f70"/>
<rect x="65.10" y="272.20" width="14.20" height="11.65" fill="#29115a"/>
<rect x="78.30" y="272.20" width="14.20" height="11.65" fill="#180f3d"/>
<rect x="91.50" y="272.20" width="14.20" height="11.65" fill="#180f3d"/>
<rect x="104.70" y="272.20" width="14.20" height="11.65" fill="#2d1161"/>
<rect x="117.90" y="272.20" width="14.20" height="11.65" fill="#2d1161"/>
<rect x="131.10" y="272.20" width="14.20" height="11.65" fill="#0e0b2b"/>
<rect x="144.30" y="272.20" width="14.20" height="11.65" fill="#1a1042"/>
<rect x="157.50" y="272.20" width="14.20" height="11.65" fill="#36106b"/>
<rect x="170.70" y="272.20" width="13.20" height="11.65" fill="#06051a"/>
<rect x="51.90" y="282.85" width="14.20" height="11.65" fill="#601880"/>
<rect x="65.10" y="282.85" width="14.20" height="11.65" fill="#3f0f72"/>
<rect x="78.30" y="282.85" width="14.20" height="11.65" fill="#180f3d"/>
<rect x="91.50" y="282.85" width="14.20" height="11.65" fill="#1a1042"/>
<rect x="104.70" y="282.85" width="14.20" height="11.65" fill="#36106b"/>
<rect x="117.90" y="282.85" width="14.20" height="11.65" fill="#4c117a"/>
<rect x="131.10" y="282.85" width="14.20" height="11.65" fill="#0e0b2b"/>
<rect x="144.30" y="282.85" width="14.20" height="11.65" fill="#1a1042"/>
<rect x="157.50" y="282.85" width="14.20" height="11.65" fill="#3f0f72"/>
<rect x="170.70" y="282.85" width="13.20" height="11.65" fill="#06051a"/>
<rect x="51.90" y="293.49" width="14.20" height="11.65" fill="#681c81"/>
<rect x="65.10" y="293.49" width="14.20" height="11.65" fill="#471078"/>
<rect x="78.30" y="293.49" width="14.20" height="11.65" fill="#180f3d"/>
<rect x="91.50" y="293.49" width="14.20" height="11.65" fill="#1a1042"/>
<rect x="104.70" y="293.49" width="14.20" height="11.65" fill="#36106b"/>
<rect x="117.90" y="293.49" width="14.20" height="11.65" fill="#51127c"/>
<rect x="131.10" y="293.49" width="14.20" height="11.65" fill="#1e1149"/>
<rect x="144.30" y="293.49" width="14.20" height="11.65" fill="#21114e"/>
<rect x="157.50" y="293.49" width="14.20" height="11.65" fill="#3b0f70"/>
<rect x="170.70" y="293.49" width="13.20" height="11.65" fill="#06051a"/>
<rect x="51.90" y="304.14" width="14.20" height="11.65" fill="#701f81"/>
<rect x="65.10" y="304.14" width="14.20" height="11.65" fill="#4c117a"/>
<rect x="78.30" y="304.14" width="14.20" height="11.65" fill="#180f3d"/>
<rect x="91.50" y="304.14" width="14.20" height="11.65" fill="#180f3d"/>
<rect x="104.70" y="304.14" width="14.20" height="11.65" fill="#331067"/>
<rect x="117.90" y="304.14" width="14.20" height="11.65" fill="#51127c"/>
<rect x="131.10" y="304.14" width="14.20" height="11.65" fill="#3f0f72"/>
<rect x="144.30" y="304.14" width="14.20" height="11.65" fill="#331067"/>
<rect x="157.50" y="304.14" width="14.20" height="11.65" fill="#3b0f70"/>
<rect x="170.70" y="304.14" width="13.20" height="11.65" fill="#06051a"/>
<rect x="51.90" y="314.78" width="14.20" height="11.65" fill="#7c2382"/>
<rect x="65.10" y="314.78" width="14.20" height="11.65" fill="#51127c"/>
<rect x="78.30" y="314.78" width="14.20" height="11.65" fill="#180f3d"/>
<rect x="91.50" y="314.78" width="14.20" height="11.65" fill="#180f3d"/>
<rect x="104.70" y="314.78" width="14.20" height="11.65" fill="#331067"/>
<rect x="117.90" y="314.78" width="14.20" height="11.65" fill="#54137d"/>
<rect x="131.10" y="314.78" width="14.20" height="11.65" fill="#681c81"/>
<rect x="144.30" y="314.78" width="14.20" height="11.65" fill="#59157e"/>
<rect x="157.50" y="314.78" width="14.20" height="11.65" fill="#3b0f70"/>
<rect x="170.70" y="314.78" width="13.20" height="11.65" fill="#06051a"/>
<rect x="51.90" y="325.43" width="14.20" height="11.65" fill="#8c2981"/>
<rect x="65.10" y="325.43" width="14.20" height="11.65" fill="#54137d"/>
<rect x="78.30" y="325.43" width="14.20" height="11.65" fill="#21114e"/>
<rect x="91.50" y="325.43" width="14.20" height="11.65" fill="#180f3d"/>
<rect x="104.70" y="325.43" width="14.20" height="11.65" fill="#331067"/>
<rect x="117.90" y="325.43" width="14.20" height="11.65" fill="#54137d"/>
<rect x="131.10" y="325.43" width="14.20" height="11.65" fill="#a5317e"/>
<rect x="144.30" y="325.43" width="14.20" height="11.65" fill="#782281"/>
<rect x="157.50" y="325.43" width="14.20" height="11.65" fill="#3b0f70"/>
<rect x="170.70" y="325.43" width="13.20" height="11.65" fill="#06051a"/>
<rect x="51.90" y="336.08" width="14.20" height="11.65" fill="#a5317e"/>
<rect x="65.10" y="336.08" width="14.20" height="11.65" fill="#54137d"/>
<rect x="78.30" y="336.08" width="14.20" height="11.65" fill="#440f76"/>
<rect x="91.50" y="336.08" width="14.20" height="11.65" fill="#1e1149"/>
<rect x="104.70" y="336.08" width="14.20" height="11.65" fill="#331067"/>
<rect x="117.90" y="336.08" width="14.20" height="11.65" fill="#54137d"/>
<rect x="131.10" y="336.08" width="14.20" height="11.65" fill="#e44f64"/>
<rect x="144.30" y="336.08" width="14.20" height="11.65" fill="#842681"/>
<rect x="157.50" y="336.08" width="14.20" height="11.65" fill="#3f0f72"/>
<rect x="170.70" y="336.08" width="13.20" height="11.65" fill="#06051a"/>
<rect x="51.90" y="346.72" width="14.20" height="11.65" fill="#ad347c"/>
<rect x="65.10" y="346.72" width="14.20" height="11.65" fill="#54137d"/>
<rect x="78.30" y="346.72" width="14.20" height="11.65" fill="#4c117a"/>
<rect x="91.50" y="346.72" width="14.20" height="11.65" fill="#120d31"/>
<rect x="104.70" y="346.72" width="14.20" height="11.65" fill="#2d1161"/>
<rect x="117.90" y="346.72" width="14.20" height="11.65" fill="#51127c"/>
<rect x="131.10" y="346.72" width="14.20" height="11.65" fill="#f7705c"/>
<rect x="144.30" y="346.72" width="14.20" height="11.65" fill="#842681"/>
<rect x="157.50" y="346.72" width="14.20" height="11.65" fill="#471078"/>
<rect x="170.70" y="346.72" width="13.20" height="11.65" fill="#06051a"/>
<rect x="51.90" y="357.37" width="14.20" height="11.65" fill="#b73779"/>
<rect x="65.10" y="357.37" width="14.20" height="11.65" fill="#54137d"/>
<rect x="78.30" y="357.37" width="14.20" height="11.65" fill="#842681"/>
<rect x="91.50" y="357.37" width="14.20" height="11.65" fill="#251255"/>
<rect x="104.70" y="357.37" width="14.20" height="11.65" fill="#36106b"/>
<rect x="117.90" y="357.37" width="14.20" height="11.65" fill="#51127c"/>
<rect x="131.10" y="357.37" width="14.20" height="11.65" fill="#fe9f6d"/>
<rect x="144.30" y="357.37" width="14.20" height="11.65" fill="#8c2981"/>
<rect x="157.50" y="357.37" width="14.20" height="11.65" fill="#59157e"/>
<rect x="170.70" y="357.37" width="13.20" height="11.65" fill="#090720"/>
<rect x="51.90" y="368.02" width="14.20" height="11.65" fill="#bf3a77"/>
<rect x="65.10" y="368.02" width="14.20" height="11.65" fill="#59157e"/>
<rect x="78.30" y="368.02" width="14.20" height="11.65" fill="#e44f64"/>
<rect x="91.50" y="368.02" width="14.20" height="11.65" fill="#3b0f70"/>
<rect x="104.70" y="368.02" width="14.20" height="11.65" fill="#4c117a"/>
<rect x="117.90" y="368.02" width="14.20" height="11.65" fill="#59157e"/>
<rect x="131.10" y="368.02" width="14.20" height="11.65" fill="#fec185"/>
<rect x="144.30" y="368.02" width="14.20" height="11.65" fill="#ad347c"/>
<rect x="157.50" y="368.02" width="14.20" height="11.65" fill="#6b1d81"/>
<rect x="170.70" y="368.02" width="13.20" height="11.65" fill="#090720"/>
<rect x="51.90" y="378.66" width="14.20" height="11.65" fill="#d6456c"/>
<rect x="65.10" y="378.66" width="14.20" height="11.65" fill="#5c167f"/>
<rect x="78.30" y="378.66" width="14.20" height="11.65" fill="#feae77"/>
<rect x="91.50" y="378.66" width="14.20" height="11.65" fill="#4c117a"/>
<rect x="104.70" y="378.66" width="14.20" height="11.65" fill="#701f81"/>
<rect x="117.90" y="378.66" width="14.20" height="11.65" fill="#a1307e"/>
<rect x="131.10" y="378.66" width="14.20" height="11.65" fill="#fde2a3"/>
<rect x="144.30" y="378.66" width="14.20" height="11.65" fill="#e24d66"/>
<rect x="157.50" y="378.66" width="14.20" height="11.65" fill="#a1307e"/>
<rect x="170.70" y="378.66" width="13.20" height="11.65" fill="#090720"/>
<rect x="51.90" y="389.31" width="14.20" height="11.65" fill="#f4675c"/>
<rect x="65.10" y="389.31" width="14.20" height="11.65" fill="#842681"/>
<rect x="78.30" y="389.31" width="14.20" height="11.65" fill="#fde7a9"/>
<rect x="91.50" y="389.31" width="14.20" height="11.65" fill="#842681"/>
<rect x="104.70" y="389.31" width="14.20" height="11.65" fill="#ca3e72"/>
<rect x="117.90" y="389.31" width="14.20" height="11.65" fill="#fdebac"/>
<rect x="131.10" y="389.31" width="14.20" height="11.65" fill="#fcf0b2"/>
<rect x="144.30" y="389.31" width="14.20" height="11.65" fill="#fd9668"/>
<rect x="157.50" y="389.31" width="14.20" height="11.65" fill="#d2426f"/>
<rect x="170.70" y="389.31" width="13.20" height="11.65" fill="#0b0924"/>
<rect x="51.90" y="399.95" width="14.20" height="10.65" fill="#fec185"/>
<rect x="65.10" y="399.95" width="14.20" height="10.65" fill="#f8745c"/>
<rect x="78.30" y="399.95" width="14.20" height="10.65" fill="#fcf0b2"/>
<rect x="91.50" y="399.95" width="14.20" height="10.65" fill="#fc8c63"/>
<rect x="104.70" y="399.95" width="14.20" height="10.65" fill="#feae77"/>
<rect x="117.90" y="399.95" width="14.20" height="10.65" fill="#fdebac"/>
<rect x="131.10" y="399.95" width="14.20" height="10.65" fill="#fcf0b2"/>
<rect x="144.30" y="399.95" width="14.20" height="10.65" fill="#fde7a9"/>
<rect x="157.50" y="399.95" width="14.20" height="10.65" fill="#feb77e"/>
<rect x="170.70" y="399.95" width="13.20" height="10.65" fill="#331067"/>
<rect x="51.90" y="272.20" width="132.00" height="138.40" fill="none" stroke="#000" stroke-width="1.1"/>
<line x1="48.10" y1="277.52" x2="51.90" y2="277.52" stroke="#000" stroke-width="1.0" stroke-linecap="butt"/>
<text x="45.40" y="280.12" font-size="7.25" text-anchor="end" fill="#111" font-weight="normal" stroke="#111" stroke-width="0.15">CTRL</text>
<line x1="48.10" y1="288.17" x2="51.90" y2="288.17" stroke="#000" stroke-width="1.0" stroke-linecap="butt"/>
<text x="45.40" y="290.77" font-size="7.25" text-anchor="end" fill="#111" font-weight="normal" stroke="#111" stroke-width="0.15">0,00488 µM</text>
<line x1="48.10" y1="298.82" x2="51.90" y2="298.82" stroke="#000" stroke-width="1.0" stroke-linecap="butt"/>
<text x="45.40" y="301.42" font-size="7.25" text-anchor="end" fill="#111" font-weight="normal" stroke="#111" stroke-width="0.15">0,00976 µM</text>
<line x1="48.10" y1="309.46" x2="51.90" y2="309.46" stroke="#000" stroke-width="1.0" stroke-linecap="butt"/>
<text x="45.40" y="312.06" font-size="7.25" text-anchor="end" fill="#111" font-weight="normal" stroke="#111" stroke-width="0.15">0,01953 µm</text>
<line x1="48.10" y1="320.11" x2="51.90" y2="320.11" stroke="#000" stroke-width="1.0" stroke-linecap="butt"/>
<text x="45.40" y="322.71" font-size="7.25" text-anchor="end" fill="#111" font-weight="normal" stroke="#111" stroke-width="0.15">0,03906 µM</text>
<line x1="48.10" y1="330.75" x2="51.90" y2="330.75" stroke="#000" stroke-width="1.0" stroke-linecap="butt"/>
<text x="45.40" y="333.35" font-size="7.25" text-anchor="end" fill="#111" font-weight="normal" stroke="#111" stroke-width="0.15">0,07812 µM</text>
<line x1="48.10" y1="341.40" x2="51.90" y2="341.40" stroke="#000" stroke-width="1.0" stroke-linecap="butt"/>
<text x="45.40" y="344.00" font-size="7.25" text-anchor="end" fill="#111" font-weight="normal" stroke="#111" stroke-width="0.15">0,15625 µM</text>
<line x1="48.10" y1="352.05" x2="51.90" y2="352.05" stroke="#000" stroke-width="1.0" stroke-linecap="butt"/>
<text x="45.40" y="354.65" font-size="7.25" text-anchor="end" fill="#111" font-weight="normal" stroke="#111" stroke-width="0.15">0,3125 µM</text>
<line x1="48.10" y1="362.69" x2="51.90" y2="362.69" stroke="#000" stroke-width="1.0" stroke-linecap="butt"/>
<text x="45.40" y="365.29" font-size="7.25" text-anchor="end" fill="#111" font-weight="normal" stroke="#111" stroke-width="0.15">0,625 µM</text>
<line x1="48.10" y1="373.34" x2="51.90" y2="373.34" stroke="#000" stroke-width="1.0" stroke-linecap="butt"/>
<text x="45.40" y="375.94" font-size="7.25" text-anchor="end" fill="#111" font-weight="normal" stroke="#111" stroke-width="0.15">1,25 µM</text>
<line x1="48.10" y1="383.98" x2="51.90" y2="383.98" stroke="#000" stroke-width="1.0" stroke-linecap="butt"/>
<text x="45.40" y="386.58" font-size="7.25" text-anchor="end" fill="#111" font-weight="normal" stroke="#111" stroke-width="0.15">2,5 µM</text>
<line x1="48.10" y1="394.63" x2="51.90" y2="394.63" stroke="#000" stroke-width="1.0" stroke-linecap="butt"/>
<text x="45.40" y="397.23" font-size="7.25" text-anchor="end" fill="#111" font-weight="normal" stroke="#111" stroke-width="0.15">5 µM</text>
<line x1="48.10" y1="405.28" x2="51.90" y2="405.28" stroke="#000" stroke-width="1.0" stroke-linecap="butt"/>
<text x="45.40" y="407.88" font-size="7.25" text-anchor="end" fill="#111" font-weight="normal" stroke="#111" stroke-width="0.15">10 µM</text>
<line x1="58.50" y1="410.60" x2="58.50" y2="414.20" stroke="#000" stroke-width="1.0" stroke-linecap="butt"/>
<text x="61.70" y="421.20" font-size="7.15" text-anchor="end" fill="#111" font-weight="normal" transform="rotate(-45 61.70 421.20)" stroke="#111" stroke-width="0.15">SUPM2</text>
<line x1="71.70" y1="410.60" x2="71.70" y2="414.20" stroke="#000" stroke-width="1.0" stroke-linecap="butt"/>
<text x="74.90" y="421.20" font-size="7.15" text-anchor="end" fill="#111" font-weight="normal" transform="rotate(-45 74.90 421.20)" stroke="#111" stroke-width="0.15">SUPM2+MS-5</text>
<line x1="84.90" y1="410.60" x2="84.90" y2="414.20" stroke="#000" stroke-width="1.0" stroke-linecap="butt"/>
<text x="88.10" y="421.20" font-size="7.15" text-anchor="end" fill="#111" font-weight="normal" transform="rotate(-45 88.10 421.20)" stroke="#111" stroke-width="0.15">L82</text>
<line x1="98.10" y1="410.60" x2="98.10" y2="414.20" stroke="#000" stroke-width="1.0" stroke-linecap="butt"/>
<text x="101.30" y="421.20" font-size="7.15" text-anchor="end" fill="#111" font-weight="normal" transform="rotate(-45 101.30 421.20)" stroke="#111" stroke-width="0.15">L82 +MS-5</text>
<line x1="111.30" y1="410.60" x2="111.30" y2="414.20" stroke="#000" stroke-width="1.0" stroke-linecap="butt"/>
<text x="114.50" y="421.20" font-size="7.15" text-anchor="end" fill="#111" font-weight="normal" transform="rotate(-45 114.50 421.20)" stroke="#111" stroke-width="0.15">IL69</text>
<line x1="124.50" y1="410.60" x2="124.50" y2="414.20" stroke="#000" stroke-width="1.0" stroke-linecap="butt"/>
<text x="127.70" y="421.20" font-size="7.15" text-anchor="end" fill="#111" font-weight="normal" transform="rotate(-45 127.70 421.20)" stroke="#111" stroke-width="0.15">IL69 + MS-5</text>
<line x1="137.70" y1="410.60" x2="137.70" y2="414.20" stroke="#000" stroke-width="1.0" stroke-linecap="butt"/>
<text x="140.90" y="421.20" font-size="7.15" text-anchor="end" fill="#111" font-weight="normal" transform="rotate(-45 140.90 421.20)" stroke="#111" stroke-width="0.15">MAC1</text>
<line x1="150.90" y1="410.60" x2="150.90" y2="414.20" stroke="#000" stroke-width="1.0" stroke-linecap="butt"/>
<text x="154.10" y="421.20" font-size="7.15" text-anchor="end" fill="#111" font-weight="normal" transform="rotate(-45 154.10 421.20)" stroke="#111" stroke-width="0.15">MAC1+MS-5</text>
<line x1="164.10" y1="410.60" x2="164.10" y2="414.20" stroke="#000" stroke-width="1.0" stroke-linecap="butt"/>
<text x="167.30" y="421.20" font-size="7.15" text-anchor="end" fill="#111" font-weight="normal" transform="rotate(-45 167.30 421.20)" stroke="#111" stroke-width="0.15">FEPD</text>
<line x1="177.30" y1="410.60" x2="177.30" y2="414.20" stroke="#000" stroke-width="1.0" stroke-linecap="butt"/>
<text x="180.50" y="421.20" font-size="7.15" text-anchor="end" fill="#111" font-weight="normal" transform="rotate(-45 180.50 421.20)" stroke="#111" stroke-width="0.15">FEPD + MS-5</text>
<text x="117.90" y="266.30" font-size="9.9" text-anchor="middle" fill="#111" font-weight="normal" textLength="33.80" lengthAdjust="spacingAndGlyphs" stroke="#111" stroke-width="0.2">ABT263</text>
<defs><linearGradient id="gC" x1="0" y1="0" x2="0" y2="1"><stop offset="0.000" stop-color="#fcfdbf"/><stop offset="0.020" stop-color="#fcf4b6"/><stop offset="0.040" stop-color="#fdebac"/><stop offset="0.060" stop-color="#fde2a3"/><stop offset="0.080" stop-color="#fed89a"/><stop offset="0.100" stop-color="#fecf92"/><stop offset="0.120" stop-color="#fec68a"/><stop offset="0.140" stop-color="#febd82"/><stop offset="0.160" stop-color="#feb47b"/><stop offset="0.180" stop-color="#fea973"/><stop offset="0.200" stop-color="#fe9f6d"/><stop offset="0.220" stop-color="#fd9668"/><stop offset="0.240" stop-color="#fc8c63"/><stop offset="0.260" stop-color="#fb835f"/><stop offset="0.280" stop-color="#f9795d"/><stop offset="0.300" stop-color="#f7705c"/><stop offset="0.320" stop-color="#f4675c"/><stop offset="0.340" stop-color="#ef5d5e"/><stop offset="0.360" stop-color="#ea5661"/><stop offset="0.380" stop-color="#e44f64"/><stop offset="0.400" stop-color="#de4968"/><stop offset="0.420" stop-color="#d6456c"/><stop offset="0.440" stop-color="#cf4070"/><stop offset="0.460" stop-color="#c73d73"/><stop offset="0.480" stop-color="#bf3a77"/><stop offset="0.500" stop-color="#b73779"/><stop offset="0.520" stop-color="#ad347c"/><stop offset="0.540" stop-color="#a5317e"/><stop offset="0.560" stop-color="#9c2e7f"/><stop offset="0.580" stop-color="#942c80"/><stop offset="0.600" stop-color="#8c2981"/><stop offset="0.620" stop-color="#842681"/><stop offset="0.640" stop-color="#7c2382"/><stop offset="0.660" stop-color="#752181"/><stop offset="0.680" stop-color="#6b1d81"/><stop offset="0.700" stop-color="#641a80"/><stop offset="0.720" stop-color="#5c167f"/><stop offset="0.740" stop-color="#54137d"/><stop offset="0.760" stop-color="#4c117a"/><stop offset="0.780" stop-color="#440f76"/><stop offset="0.800" stop-color="#3b0f70"/><stop offset="0.820" stop-color="#331067"/><stop offset="0.840" stop-color="#29115a"/><stop offset="0.860" stop-color="#21114e"/><stop offset="0.880" stop-color="#1a1042"/><stop offset="0.900" stop-color="#140e36"/><stop offset="0.920" stop-color="#0e0b2b"/><stop offset="0.940" stop-color="#090720"/><stop offset="0.960" stop-color="#050416"/><stop offset="0.980" stop-color="#02020b"/><stop offset="1.000" stop-color="#000004"/></linearGradient></defs>
<rect x="189.60" y="272.20" width="6.00" height="138.40" fill="url(#gC)" stroke="#000" stroke-width="1.2"/>
<text x="199.90" y="412.10" font-size="7.3" text-anchor="start" fill="#111" font-weight="normal" stroke="#111" stroke-width="0.15">0</text>
<line x1="189.60" y1="382.92" x2="195.60" y2="382.92" stroke="#000" stroke-width="1.0" stroke-linecap="butt"/>
<text x="199.90" y="384.86" font-size="7.3" text-anchor="start" fill="#111" font-weight="normal" stroke="#111" stroke-width="0.15">20</text>
<line x1="189.60" y1="355.24" x2="195.60" y2="355.24" stroke="#000" stroke-width="1.0" stroke-linecap="butt"/>
<text x="199.90" y="357.62" font-size="7.3" text-anchor="start" fill="#111" font-weight="normal" stroke="#111" stroke-width="0.15">40</text>
<line x1="189.60" y1="327.56" x2="195.60" y2="327.56" stroke="#000" stroke-width="1.0" stroke-linecap="butt"/>
<text x="199.90" y="330.38" font-size="7.3" text-anchor="start" fill="#111" font-weight="normal" stroke="#111" stroke-width="0.15">60</text>
<line x1="189.60" y1="299.88" x2="195.60" y2="299.88" stroke="#000" stroke-width="1.0" stroke-linecap="butt"/>
<text x="199.90" y="303.14" font-size="7.3" text-anchor="start" fill="#111" font-weight="normal" stroke="#111" stroke-width="0.15">80</text>
<text x="199.90" y="275.90" font-size="7.3" text-anchor="start" fill="#111" font-weight="normal" stroke="#111" stroke-width="0.15">100</text>
<text x="217.40" y="341.40" font-size="7.2" text-anchor="middle" fill="#4a4a4a" font-weight="normal" transform="rotate(90 217.40 341.40)" stroke="#4a4a4a" stroke-width="0.12">% PI+ cells</text>
</g>
<text x="7.50" y="18.50" font-size="12.6" text-anchor="start" fill="#000" font-weight="bold" stroke="#000" stroke-width="0.5" stroke-linejoin="round">A</text>
<text x="239.60" y="18.50" font-size="12.6" text-anchor="start" fill="#000" font-weight="bold" stroke="#000" stroke-width="0.5" stroke-linejoin="round">B</text>
<text x="7.60" y="251.60" font-size="12.6" text-anchor="start" fill="#000" font-weight="bold" stroke="#000" stroke-width="0.5" stroke-linejoin="round">C</text>
<rect x="277.60" y="329.66" width="9.80" height="16.04" fill="#445265"/>
<line x1="282.50" y1="329.96" x2="282.50" y2="328.89" stroke="#262c35" stroke-width="1.0" stroke-linecap="butt"/>
<line x1="280.10" y1="328.89" x2="284.90" y2="328.89" stroke="#262c35" stroke-width="1.0" stroke-linecap="butt"/>
<rect x="292.50" y="338.90" width="10.20" height="6.80" fill="#c1c1c6"/>
<line x1="297.60" y1="339.20" x2="297.60" y2="337.14" stroke="#262c35" stroke-width="1.0" stroke-linecap="butt"/>
<line x1="295.20" y1="337.14" x2="300.00" y2="337.14" stroke="#262c35" stroke-width="1.0" stroke-linecap="butt"/>
<rect x="318.00" y="295.12" width="10.00" height="50.58" fill="#445265"/>
<line x1="323.00" y1="295.42" x2="323.00" y2="289.55" stroke="#262c35" stroke-width="1.0" stroke-linecap="butt"/>
<line x1="320.60" y1="289.55" x2="325.40" y2="289.55" stroke="#262c35" stroke-width="1.0" stroke-linecap="butt"/>
<rect x="333.00" y="322.78" width="9.90" height="22.92" fill="#c1c1c6"/>
<line x1="337.95" y1="323.08" x2="337.95" y2="321.10" stroke="#262c35" stroke-width="1.0" stroke-linecap="butt"/>
<line x1="335.55" y1="321.10" x2="340.35" y2="321.10" stroke="#262c35" stroke-width="1.0" stroke-linecap="butt"/>
<line x1="272.80" y1="265.90" x2="272.80" y2="346.25" stroke="#0d0d0d" stroke-width="1.15" stroke-linecap="butt"/>
<line x1="272.25" y1="345.70" x2="348.50" y2="345.70" stroke="#0d0d0d" stroke-width="1.15" stroke-linecap="butt"/>
<line x1="268.90" y1="345.70" x2="272.80" y2="345.70" stroke="#111" stroke-width="1.0" stroke-linecap="butt"/>
<text x="265.90" y="348.20" font-size="6.9" text-anchor="end" fill="#222" font-weight="normal" stroke="#111" stroke-width="0.15">0</text>
<line x1="268.90" y1="330.42" x2="272.80" y2="330.42" stroke="#111" stroke-width="1.0" stroke-linecap="butt"/>
<text x="265.90" y="332.92" font-size="6.9" text-anchor="end" fill="#222" font-weight="normal" stroke="#111" stroke-width="0.15">20</text>
<line x1="268.90" y1="315.14" x2="272.80" y2="315.14" stroke="#111" stroke-width="1.0" stroke-linecap="butt"/>
<text x="265.90" y="317.64" font-size="6.9" text-anchor="end" fill="#222" font-weight="normal" stroke="#111" stroke-width="0.15">40</text>
<line x1="268.90" y1="299.86" x2="272.80" y2="299.86" stroke="#111" stroke-width="1.0" stroke-linecap="butt"/>
<text x="265.90" y="302.36" font-size="6.9" text-anchor="end" fill="#222" font-weight="normal" stroke="#111" stroke-width="0.15">60</text>
<line x1="268.90" y1="284.58" x2="272.80" y2="284.58" stroke="#111" stroke-width="1.0" stroke-linecap="butt"/>
<text x="265.90" y="287.08" font-size="6.9" text-anchor="end" fill="#222" font-weight="normal" stroke="#111" stroke-width="0.15">80</text>
<line x1="268.90" y1="269.30" x2="272.80" y2="269.30" stroke="#111" stroke-width="1.0" stroke-linecap="butt"/>
<text x="265.90" y="271.80" font-size="6.9" text-anchor="end" fill="#222" font-weight="normal" stroke="#111" stroke-width="0.15">100</text>
<line x1="290.00" y1="345.70" x2="290.00" y2="349.10" stroke="#111" stroke-width="1.0" stroke-linecap="butt"/>
<line x1="330.40" y1="345.70" x2="330.40" y2="349.10" stroke="#111" stroke-width="1.0" stroke-linecap="butt"/>
<text x="290.00" y="358.30" font-size="6.9" text-anchor="middle" fill="#222" font-weight="normal" stroke="#111" stroke-width="0.15">NT</text>
<text x="330.50" y="358.30" font-size="6.9" text-anchor="middle" fill="#222" font-weight="normal" stroke="#111" stroke-width="0.15">doxo 20nM</text>
<text x="247.90" y="305.50" font-size="8.2" text-anchor="middle" fill="#222" font-weight="normal" transform="rotate(-90 247.90 305.50)" textLength="40.80" lengthAdjust="spacingAndGlyphs" stroke="#222" stroke-width="0.28">% of PI+ cells</text>
<rect x="264.90" y="369.00" width="3.20" height="3.20" fill="#38424f"/>
<text x="272.00" y="373.10" font-size="6.9" text-anchor="start" fill="#222" font-weight="normal" textLength="24.20" lengthAdjust="spacingAndGlyphs" stroke="#111" stroke-width="0.15">SUPM2</text>
<rect x="303.70" y="369.00" width="3.20" height="3.20" fill="#c1c1c6"/>
<text x="310.00" y="373.10" font-size="6.9" text-anchor="start" fill="#222" font-weight="normal" textLength="45.80" lengthAdjust="spacingAndGlyphs" stroke="#111" stroke-width="0.15">SUPM2+MS-5</text>
<polyline points="297.40,268.40 297.40,264.40 338.10,264.40 338.10,268.40" fill="none" stroke="#1c1c1c" stroke-width="1.0"/>
<text x="317.94" y="263.99" font-size="5.7" text-anchor="middle" fill="#222" font-weight="normal" letter-spacing="0.38" stroke="#222" stroke-width="0.25">*</text>
<polyline points="282.40,323.80 282.40,279.90 321.60,279.90 321.60,284.80" fill="none" stroke="#1c1c1c" stroke-width="1.0"/>
<text x="302.19" y="279.29" font-size="5.7" text-anchor="middle" fill="#222" font-weight="normal" letter-spacing="0.38" stroke="#222" stroke-width="0.25">***</text>
<polyline points="324.20,284.80 324.20,279.90 338.10,279.90 338.10,316.50" fill="none" stroke="#1c1c1c" stroke-width="1.0"/>
<text x="331.34" y="279.29" font-size="5.7" text-anchor="middle" fill="#222" font-weight="normal" letter-spacing="0.38" stroke="#222" stroke-width="0.25">***</text>
<text x="240.50" y="251.60" font-size="12.6" text-anchor="start" fill="#000" font-weight="bold" stroke="#000" stroke-width="0.5" stroke-linejoin="round">D</text>
<rect x="409.90" y="341.12" width="10.20" height="4.58" fill="#445265"/>
<line x1="415.00" y1="341.42" x2="415.00" y2="340.35" stroke="#262c35" stroke-width="1.0" stroke-linecap="butt"/>
<line x1="412.60" y1="340.35" x2="417.40" y2="340.35" stroke="#262c35" stroke-width="1.0" stroke-linecap="butt"/>
<rect x="425.40" y="343.18" width="9.40" height="2.52" fill="#c1c1c6"/>
<line x1="430.10" y1="343.48" x2="430.10" y2="342.26" stroke="#262c35" stroke-width="1.0" stroke-linecap="butt"/>
<line x1="427.70" y1="342.26" x2="432.50" y2="342.26" stroke="#262c35" stroke-width="1.0" stroke-linecap="butt"/>
<rect x="450.30" y="293.29" width="10.20" height="52.41" fill="#445265"/>
<line x1="455.40" y1="293.59" x2="455.40" y2="288.40" stroke="#262c35" stroke-width="1.0" stroke-linecap="butt"/>
<line x1="453.00" y1="288.40" x2="457.80" y2="288.40" stroke="#262c35" stroke-width="1.0" stroke-linecap="butt"/>
<rect x="465.30" y="315.67" width="9.90" height="30.03" fill="#c1c1c6"/>
<line x1="470.25" y1="315.97" x2="470.25" y2="312.85" stroke="#262c35" stroke-width="1.0" stroke-linecap="butt"/>
<line x1="467.85" y1="312.85" x2="472.65" y2="312.85" stroke="#262c35" stroke-width="1.0" stroke-linecap="butt"/>
<line x1="405.10" y1="265.90" x2="405.10" y2="346.25" stroke="#0d0d0d" stroke-width="1.15" stroke-linecap="butt"/>
<line x1="404.55" y1="345.70" x2="480.80" y2="345.70" stroke="#0d0d0d" stroke-width="1.15" stroke-linecap="butt"/>
<line x1="401.20" y1="345.70" x2="405.10" y2="345.70" stroke="#111" stroke-width="1.0" stroke-linecap="butt"/>
<text x="398.20" y="348.20" font-size="6.9" text-anchor="end" fill="#222" font-weight="normal" stroke="#111" stroke-width="0.15">0</text>
<line x1="401.20" y1="330.42" x2="405.10" y2="330.42" stroke="#111" stroke-width="1.0" stroke-linecap="butt"/>
<text x="398.20" y="332.92" font-size="6.9" text-anchor="end" fill="#222" font-weight="normal" stroke="#111" stroke-width="0.15">20</text>
<line x1="401.20" y1="315.14" x2="405.10" y2="315.14" stroke="#111" stroke-width="1.0" stroke-linecap="butt"/>
<text x="398.20" y="317.64" font-size="6.9" text-anchor="end" fill="#222" font-weight="normal" stroke="#111" stroke-width="0.15">40</text>
<line x1="401.20" y1="299.86" x2="405.10" y2="299.86" stroke="#111" stroke-width="1.0" stroke-linecap="butt"/>
<text x="398.20" y="302.36" font-size="6.9" text-anchor="end" fill="#222" font-weight="normal" stroke="#111" stroke-width="0.15">60</text>
<line x1="401.20" y1="284.58" x2="405.10" y2="284.58" stroke="#111" stroke-width="1.0" stroke-linecap="butt"/>
<text x="398.20" y="287.08" font-size="6.9" text-anchor="end" fill="#222" font-weight="normal" stroke="#111" stroke-width="0.15">80</text>
<line x1="401.20" y1="269.30" x2="405.10" y2="269.30" stroke="#111" stroke-width="1.0" stroke-linecap="butt"/>
<text x="398.20" y="271.80" font-size="6.9" text-anchor="end" fill="#222" font-weight="normal" stroke="#111" stroke-width="0.15">100</text>
<line x1="422.60" y1="345.70" x2="422.60" y2="349.10" stroke="#111" stroke-width="1.0" stroke-linecap="butt"/>
<line x1="462.80" y1="345.70" x2="462.80" y2="349.10" stroke="#111" stroke-width="1.0" stroke-linecap="butt"/>
<text x="422.60" y="358.80" font-size="6.9" text-anchor="middle" fill="#222" font-weight="normal" stroke="#111" stroke-width="0.15">NT</text>
<text x="464.50" y="358.80" font-size="6.9" text-anchor="middle" fill="#222" font-weight="normal" stroke="#111" stroke-width="0.15">doxo 40nM</text>
<text x="379.90" y="305.50" font-size="8.2" text-anchor="middle" fill="#222" font-weight="normal" transform="rotate(-90 379.90 305.50)" textLength="41.00" lengthAdjust="spacingAndGlyphs" stroke="#222" stroke-width="0.28">% of PI+ cells</text>
<rect x="402.60" y="365.50" width="3.20" height="3.20" fill="#38424f"/>
<text x="408.90" y="369.60" font-size="6.9" text-anchor="start" fill="#222" font-weight="normal" textLength="18.60" lengthAdjust="spacingAndGlyphs" stroke="#111" stroke-width="0.15">MAC1</text>
<rect x="435.40" y="365.50" width="3.20" height="3.20" fill="#c1c1c6"/>
<text x="442.20" y="369.60" font-size="6.9" text-anchor="start" fill="#222" font-weight="normal" textLength="42.80" lengthAdjust="spacingAndGlyphs" stroke="#111" stroke-width="0.15">MAC1 + MS5</text>
<polyline points="430.40,268.50 430.40,264.60 470.50,264.60 470.50,268.50" fill="none" stroke="#1c1c1c" stroke-width="1.0"/>
<text x="450.49" y="263.99" font-size="5.7" text-anchor="middle" fill="#222" font-weight="normal" letter-spacing="0.38" stroke="#222" stroke-width="0.25">****</text>
<polyline points="415.20,335.50 415.20,279.70 453.60,279.70 453.60,283.90" fill="none" stroke="#1c1c1c" stroke-width="1.0"/>
<text x="434.79" y="279.09" font-size="5.7" text-anchor="middle" fill="#222" font-weight="normal" letter-spacing="0.38" stroke="#222" stroke-width="0.25">****</text>
<polyline points="456.50,283.90 456.50,279.70 470.50,279.70 470.50,308.00" fill="none" stroke="#1c1c1c" stroke-width="1.0"/>
<text x="463.69" y="279.09" font-size="5.7" text-anchor="middle" fill="#222" font-weight="normal" letter-spacing="0.38" stroke="#222" stroke-width="0.25">****</text>
<text x="373.00" y="251.60" font-size="12.6" text-anchor="start" fill="#000" font-weight="bold" stroke="#000" stroke-width="0.5" stroke-linejoin="round">E</text>
<rect x="276.90" y="491.21" width="9.30" height="7.39" fill="#445265"/>
<line x1="281.55" y1="491.51" x2="281.55" y2="489.19" stroke="#262c35" stroke-width="1.0" stroke-linecap="butt"/>
<line x1="279.15" y1="489.19" x2="283.95" y2="489.19" stroke="#262c35" stroke-width="1.0" stroke-linecap="butt"/>
<rect x="290.30" y="492.22" width="9.00" height="6.38" fill="#c1c1c6"/>
<line x1="294.80" y1="492.52" x2="294.80" y2="490.87" stroke="#262c35" stroke-width="1.0" stroke-linecap="butt"/>
<line x1="292.40" y1="490.87" x2="297.20" y2="490.87" stroke="#262c35" stroke-width="1.0" stroke-linecap="butt"/>
<rect x="312.70" y="441.48" width="9.00" height="57.12" fill="#445265"/>
<line x1="317.20" y1="441.78" x2="317.20" y2="437.11" stroke="#262c35" stroke-width="1.0" stroke-linecap="butt"/>
<line x1="314.80" y1="437.11" x2="319.60" y2="437.11" stroke="#262c35" stroke-width="1.0" stroke-linecap="butt"/>
<rect x="325.80" y="469.84" width="9.30" height="28.76" fill="#c1c1c6"/>
<line x1="330.45" y1="470.14" x2="330.45" y2="467.69" stroke="#262c35" stroke-width="1.0" stroke-linecap="butt"/>
<line x1="328.05" y1="467.69" x2="332.85" y2="467.69" stroke="#262c35" stroke-width="1.0" stroke-linecap="butt"/>
<line x1="272.30" y1="428.00" x2="272.30" y2="499.15" stroke="#0d0d0d" stroke-width="1.15" stroke-linecap="butt"/>
<line x1="271.75" y1="498.60" x2="340.40" y2="498.60" stroke="#0d0d0d" stroke-width="1.15" stroke-linecap="butt"/>
<line x1="268.40" y1="498.60" x2="272.30" y2="498.60" stroke="#111" stroke-width="1.0" stroke-linecap="butt"/>
<text x="265.40" y="501.10" font-size="6.9" text-anchor="end" fill="#222" font-weight="normal" stroke="#111" stroke-width="0.15">0</text>
<line x1="268.40" y1="485.16" x2="272.30" y2="485.16" stroke="#111" stroke-width="1.0" stroke-linecap="butt"/>
<text x="265.40" y="487.66" font-size="6.9" text-anchor="end" fill="#222" font-weight="normal" stroke="#111" stroke-width="0.15">20</text>
<line x1="268.40" y1="471.72" x2="272.30" y2="471.72" stroke="#111" stroke-width="1.0" stroke-linecap="butt"/>
<text x="265.40" y="474.22" font-size="6.9" text-anchor="end" fill="#222" font-weight="normal" stroke="#111" stroke-width="0.15">40</text>
<line x1="268.40" y1="458.28" x2="272.30" y2="458.28" stroke="#111" stroke-width="1.0" stroke-linecap="butt"/>
<text x="265.40" y="460.78" font-size="6.9" text-anchor="end" fill="#222" font-weight="normal" stroke="#111" stroke-width="0.15">60</text>
<line x1="268.40" y1="444.84" x2="272.30" y2="444.84" stroke="#111" stroke-width="1.0" stroke-linecap="butt"/>
<text x="265.40" y="447.34" font-size="6.9" text-anchor="end" fill="#222" font-weight="normal" stroke="#111" stroke-width="0.15">80</text>
<line x1="268.40" y1="431.40" x2="272.30" y2="431.40" stroke="#111" stroke-width="1.0" stroke-linecap="butt"/>
<text x="265.40" y="433.90" font-size="6.9" text-anchor="end" fill="#222" font-weight="normal" stroke="#111" stroke-width="0.15">100</text>
<line x1="288.00" y1="498.60" x2="288.00" y2="502.00" stroke="#111" stroke-width="1.0" stroke-linecap="butt"/>
<line x1="324.00" y1="498.60" x2="324.00" y2="502.00" stroke="#111" stroke-width="1.0" stroke-linecap="butt"/>
<text x="288.00" y="512.00" font-size="6.9" text-anchor="middle" fill="#222" font-weight="normal" stroke="#111" stroke-width="0.15">NT</text>
<text x="324.20" y="512.00" font-size="6.9" text-anchor="middle" fill="#222" font-weight="normal" stroke="#111" stroke-width="0.15">criz 100nM</text>
<text x="247.90" y="463.50" font-size="8.2" text-anchor="middle" fill="#222" font-weight="normal" transform="rotate(-90 247.90 463.50)" textLength="41.00" lengthAdjust="spacingAndGlyphs" stroke="#222" stroke-width="0.28">% of PI+ cells</text>
<rect x="258.00" y="521.90" width="3.20" height="3.20" fill="#38424f"/>
<text x="265.00" y="526.00" font-size="6.9" text-anchor="start" fill="#222" font-weight="normal" textLength="24.20" lengthAdjust="spacingAndGlyphs" stroke="#111" stroke-width="0.15">SUPM2</text>
<rect x="296.10" y="521.90" width="3.20" height="3.20" fill="#c1c1c6"/>
<text x="302.70" y="526.00" font-size="6.9" text-anchor="start" fill="#222" font-weight="normal" textLength="45.20" lengthAdjust="spacingAndGlyphs" stroke="#111" stroke-width="0.15">SUPM2 + 44F</text>
<polyline points="294.70,419.00 294.70,414.60 330.60,414.60 330.60,419.00" fill="none" stroke="#1c1c1c" stroke-width="1.0"/>
<text x="313.09" y="413.99" font-size="5.7" text-anchor="middle" fill="#222" font-weight="normal" letter-spacing="0.38" stroke="#222" stroke-width="0.25">****</text>
<polyline points="281.50,487.00 281.50,429.40 316.10,429.40 316.10,433.50" fill="none" stroke="#1c1c1c" stroke-width="1.0"/>
<text x="298.79" y="428.79" font-size="5.7" text-anchor="middle" fill="#222" font-weight="normal" letter-spacing="0.38" stroke="#222" stroke-width="0.25">****</text>
<polyline points="318.40,433.50 318.40,429.40 330.60,429.40 330.60,463.80" fill="none" stroke="#1c1c1c" stroke-width="1.0"/>
<text x="324.79" y="428.79" font-size="5.7" text-anchor="middle" fill="#222" font-weight="normal" letter-spacing="0.38" stroke="#222" stroke-width="0.25">****</text>
<text x="240.50" y="402.00" font-size="12.6" text-anchor="start" fill="#000" font-weight="bold" stroke="#000" stroke-width="0.5" stroke-linejoin="round">F</text>
<rect x="409.70" y="492.64" width="9.20" height="5.76" fill="#445265"/>
<line x1="414.30" y1="492.94" x2="414.30" y2="491.54" stroke="#262c35" stroke-width="1.0" stroke-linecap="butt"/>
<line x1="411.90" y1="491.54" x2="416.70" y2="491.54" stroke="#262c35" stroke-width="1.0" stroke-linecap="butt"/>
<rect x="423.10" y="492.02" width="9.20" height="6.38" fill="#c1c1c6"/>
<line x1="427.70" y1="492.32" x2="427.70" y2="488.52" stroke="#262c35" stroke-width="1.0" stroke-linecap="butt"/>
<line x1="425.30" y1="488.52" x2="430.10" y2="488.52" stroke="#262c35" stroke-width="1.0" stroke-linecap="butt"/>
<rect x="446.20" y="442.49" width="9.20" height="55.91" fill="#445265"/>
<line x1="450.80" y1="442.79" x2="450.80" y2="438.03" stroke="#262c35" stroke-width="1.0" stroke-linecap="butt"/>
<line x1="448.40" y1="438.03" x2="453.20" y2="438.03" stroke="#262c35" stroke-width="1.0" stroke-linecap="butt"/>
<rect x="460.00" y="468.90" width="9.20" height="29.50" fill="#c1c1c6"/>
<line x1="464.60" y1="469.20" x2="464.60" y2="462.73" stroke="#262c35" stroke-width="1.0" stroke-linecap="butt"/>
<line x1="462.20" y1="462.73" x2="467.00" y2="462.73" stroke="#262c35" stroke-width="1.0" stroke-linecap="butt"/>
<line x1="405.10" y1="426.40" x2="405.10" y2="498.95" stroke="#0d0d0d" stroke-width="1.15" stroke-linecap="butt"/>
<line x1="404.55" y1="498.40" x2="474.30" y2="498.40" stroke="#0d0d0d" stroke-width="1.15" stroke-linecap="butt"/>
<line x1="401.20" y1="498.40" x2="405.10" y2="498.40" stroke="#111" stroke-width="1.0" stroke-linecap="butt"/>
<text x="398.20" y="500.90" font-size="6.9" text-anchor="end" fill="#222" font-weight="normal" stroke="#111" stroke-width="0.15">0</text>
<line x1="401.20" y1="484.68" x2="405.10" y2="484.68" stroke="#111" stroke-width="1.0" stroke-linecap="butt"/>
<text x="398.20" y="487.18" font-size="6.9" text-anchor="end" fill="#222" font-weight="normal" stroke="#111" stroke-width="0.15">20</text>
<line x1="401.20" y1="470.96" x2="405.10" y2="470.96" stroke="#111" stroke-width="1.0" stroke-linecap="butt"/>
<text x="398.20" y="473.46" font-size="6.9" text-anchor="end" fill="#222" font-weight="normal" stroke="#111" stroke-width="0.15">40</text>
<line x1="401.20" y1="457.24" x2="405.10" y2="457.24" stroke="#111" stroke-width="1.0" stroke-linecap="butt"/>
<text x="398.20" y="459.74" font-size="6.9" text-anchor="end" fill="#222" font-weight="normal" stroke="#111" stroke-width="0.15">60</text>
<line x1="401.20" y1="443.52" x2="405.10" y2="443.52" stroke="#111" stroke-width="1.0" stroke-linecap="butt"/>
<text x="398.20" y="446.02" font-size="6.9" text-anchor="end" fill="#222" font-weight="normal" stroke="#111" stroke-width="0.15">80</text>
<line x1="401.20" y1="429.80" x2="405.10" y2="429.80" stroke="#111" stroke-width="1.0" stroke-linecap="butt"/>
<text x="398.20" y="432.30" font-size="6.9" text-anchor="end" fill="#222" font-weight="normal" stroke="#111" stroke-width="0.15">100</text>
<line x1="421.20" y1="498.40" x2="421.20" y2="501.80" stroke="#111" stroke-width="1.0" stroke-linecap="butt"/>
<line x1="457.70" y1="498.40" x2="457.70" y2="501.80" stroke="#111" stroke-width="1.0" stroke-linecap="butt"/>
<text x="419.50" y="513.00" font-size="6.9" text-anchor="middle" fill="#222" font-weight="normal" stroke="#111" stroke-width="0.15">NT</text>
<text x="457.20" y="512.00" font-size="6.9" text-anchor="middle" fill="#222" font-weight="normal" stroke="#111" stroke-width="0.15">criz 150nM</text>
<text x="379.90" y="462.20" font-size="8.2" text-anchor="middle" fill="#222" font-weight="normal" transform="rotate(-90 379.90 462.20)" textLength="41.00" lengthAdjust="spacingAndGlyphs" stroke="#222" stroke-width="0.28">% of PI+ cells</text>
<rect x="403.70" y="521.90" width="3.20" height="3.20" fill="#38424f"/>
<text x="410.50" y="526.00" font-size="6.9" text-anchor="start" fill="#222" font-weight="normal" textLength="12.00" lengthAdjust="spacingAndGlyphs" stroke="#111" stroke-width="0.15">L82</text>
<rect x="429.60" y="521.90" width="3.20" height="3.20" fill="#c1c1c6"/>
<text x="436.00" y="526.00" font-size="6.9" text-anchor="start" fill="#222" font-weight="normal" textLength="33.20" lengthAdjust="spacingAndGlyphs" stroke="#111" stroke-width="0.15">L82 + 44F</text>
<polyline points="427.80,418.60 427.80,414.60 464.50,414.60 464.50,418.60" fill="none" stroke="#1c1c1c" stroke-width="1.0"/>
<text x="446.39" y="413.99" font-size="5.7" text-anchor="middle" fill="#222" font-weight="normal" letter-spacing="0.38" stroke="#222" stroke-width="0.25">***</text>
<polyline points="414.50,487.50 414.50,429.50 449.70,429.50 449.70,433.50" fill="none" stroke="#1c1c1c" stroke-width="1.0"/>
<text x="432.09" y="429.09" font-size="5.7" text-anchor="middle" fill="#222" font-weight="normal" letter-spacing="0.38" stroke="#222" stroke-width="0.25">****</text>
<polyline points="451.70,433.50 451.70,429.50 464.50,429.50 464.50,459.60" fill="none" stroke="#1c1c1c" stroke-width="1.0"/>
<text x="458.29" y="429.09" font-size="5.7" text-anchor="middle" fill="#222" font-weight="normal" letter-spacing="0.38" stroke="#222" stroke-width="0.25">***</text>
<text x="373.00" y="402.00" font-size="12.6" text-anchor="start" fill="#000" font-weight="bold" stroke="#000" stroke-width="0.5" stroke-linejoin="round">G</text>
<rect x="45.00" y="643.82" width="10.00" height="7.48" fill="#445265"/>
<line x1="50.00" y1="644.12" x2="50.00" y2="643.04" stroke="#262c35" stroke-width="1.0" stroke-linecap="butt"/>
<line x1="47.60" y1="643.04" x2="52.40" y2="643.04" stroke="#262c35" stroke-width="1.0" stroke-linecap="butt"/>
<rect x="59.30" y="639.60" width="10.00" height="11.70" fill="#c1c1c6"/>
<line x1="64.30" y1="639.90" x2="64.30" y2="635.70" stroke="#262c35" stroke-width="1.0" stroke-linecap="butt"/>
<line x1="61.90" y1="635.70" x2="66.70" y2="635.70" stroke="#262c35" stroke-width="1.0" stroke-linecap="butt"/>
<rect x="84.30" y="597.02" width="9.50" height="54.27" fill="#445265"/>
<line x1="89.05" y1="597.32" x2="89.05" y2="594.75" stroke="#262c35" stroke-width="1.0" stroke-linecap="butt"/>
<line x1="86.65" y1="594.75" x2="91.45" y2="594.75" stroke="#262c35" stroke-width="1.0" stroke-linecap="butt"/>
<rect x="98.30" y="621.40" width="9.70" height="29.90" fill="#c1c1c6"/>
<line x1="103.15" y1="621.70" x2="103.15" y2="615.55" stroke="#262c35" stroke-width="1.0" stroke-linecap="butt"/>
<line x1="100.75" y1="615.55" x2="105.55" y2="615.55" stroke="#262c35" stroke-width="1.0" stroke-linecap="butt"/>
<line x1="40.10" y1="582.90" x2="40.10" y2="651.85" stroke="#0d0d0d" stroke-width="1.15" stroke-linecap="butt"/>
<line x1="39.55" y1="651.30" x2="113.80" y2="651.30" stroke="#0d0d0d" stroke-width="1.15" stroke-linecap="butt"/>
<line x1="36.20" y1="651.30" x2="40.10" y2="651.30" stroke="#111" stroke-width="1.0" stroke-linecap="butt"/>
<text x="33.20" y="653.80" font-size="6.9" text-anchor="end" fill="#222" font-weight="normal" stroke="#111" stroke-width="0.15">0</text>
<line x1="36.20" y1="638.30" x2="40.10" y2="638.30" stroke="#111" stroke-width="1.0" stroke-linecap="butt"/>
<text x="33.20" y="640.80" font-size="6.9" text-anchor="end" fill="#222" font-weight="normal" stroke="#111" stroke-width="0.15">20</text>
<line x1="36.20" y1="625.30" x2="40.10" y2="625.30" stroke="#111" stroke-width="1.0" stroke-linecap="butt"/>
<text x="33.20" y="627.80" font-size="6.9" text-anchor="end" fill="#222" font-weight="normal" stroke="#111" stroke-width="0.15">40</text>
<line x1="36.20" y1="612.30" x2="40.10" y2="612.30" stroke="#111" stroke-width="1.0" stroke-linecap="butt"/>
<text x="33.20" y="614.80" font-size="6.9" text-anchor="end" fill="#222" font-weight="normal" stroke="#111" stroke-width="0.15">60</text>
<line x1="36.20" y1="599.30" x2="40.10" y2="599.30" stroke="#111" stroke-width="1.0" stroke-linecap="butt"/>
<text x="33.20" y="601.80" font-size="6.9" text-anchor="end" fill="#222" font-weight="normal" stroke="#111" stroke-width="0.15">80</text>
<line x1="36.20" y1="586.30" x2="40.10" y2="586.30" stroke="#111" stroke-width="1.0" stroke-linecap="butt"/>
<text x="33.20" y="588.80" font-size="6.9" text-anchor="end" fill="#222" font-weight="normal" stroke="#111" stroke-width="0.15">100</text>
<line x1="57.00" y1="651.30" x2="57.00" y2="654.70" stroke="#111" stroke-width="1.0" stroke-linecap="butt"/>
<line x1="96.30" y1="651.30" x2="96.30" y2="654.70" stroke="#111" stroke-width="1.0" stroke-linecap="butt"/>
<text x="57.80" y="663.50" font-size="6.9" text-anchor="middle" fill="#222" font-weight="normal" stroke="#111" stroke-width="0.15">NT</text>
<text x="93.70" y="663.50" font-size="6.9" text-anchor="middle" fill="#222" font-weight="normal" stroke="#111" stroke-width="0.15">criz 100nM</text>
<text x="14.70" y="617.40" font-size="8.2" text-anchor="middle" fill="#222" font-weight="normal" transform="rotate(-90 14.70 617.40)" textLength="41.00" lengthAdjust="spacingAndGlyphs" stroke="#222" stroke-width="0.28">% of PI+ cells</text>
<rect x="28.90" y="674.20" width="3.20" height="3.20" fill="#38424f"/>
<text x="35.10" y="678.30" font-size="6.9" text-anchor="start" fill="#222" font-weight="normal" textLength="24.20" lengthAdjust="spacingAndGlyphs" stroke="#111" stroke-width="0.15">SUPM2</text>
<rect x="66.40" y="674.20" width="3.20" height="3.20" fill="#c1c1c6"/>
<text x="72.70" y="678.30" font-size="6.9" text-anchor="start" fill="#222" font-weight="normal" textLength="45.80" lengthAdjust="spacingAndGlyphs" stroke="#111" stroke-width="0.15">SUPM2 + 89F</text>
<polyline points="49.80,642.50 49.80,587.00 64.60,587.00 64.60,632.80" fill="none" stroke="#1c1c1c" stroke-width="1.0"/>
<text x="57.30" y="582.16" font-size="6.4" text-anchor="middle" fill="#222" font-weight="normal" stroke="#111" stroke-width="0.15">ns</text>
<polyline points="88.60,590.60 88.60,587.00 103.50,587.00 103.50,611.70" fill="none" stroke="#1c1c1c" stroke-width="1.0"/>
<text x="96.29" y="586.19" font-size="5.7" text-anchor="middle" fill="#222" font-weight="normal" letter-spacing="0.38" stroke="#222" stroke-width="0.25">**</text>
<text x="7.60" y="556.20" font-size="12.6" text-anchor="start" fill="#000" font-weight="bold" stroke="#000" stroke-width="0.5" stroke-linejoin="round">H</text>
<rect x="179.30" y="643.79" width="10.00" height="6.71" fill="#445265"/>
<line x1="184.30" y1="644.09" x2="184.30" y2="640.81" stroke="#262c35" stroke-width="1.0" stroke-linecap="butt"/>
<line x1="181.90" y1="640.81" x2="186.70" y2="640.81" stroke="#262c35" stroke-width="1.0" stroke-linecap="butt"/>
<rect x="194.50" y="641.23" width="10.00" height="9.27" fill="#c1c1c6"/>
<line x1="199.50" y1="641.53" x2="199.50" y2="635.76" stroke="#262c35" stroke-width="1.0" stroke-linecap="butt"/>
<line x1="197.10" y1="635.76" x2="201.90" y2="635.76" stroke="#262c35" stroke-width="1.0" stroke-linecap="butt"/>
<rect x="220.50" y="584.28" width="10.00" height="66.22" fill="#445265"/>
<line x1="225.50" y1="584.58" x2="225.50" y2="581.30" stroke="#262c35" stroke-width="1.0" stroke-linecap="butt"/>
<line x1="223.10" y1="581.30" x2="227.90" y2="581.30" stroke="#262c35" stroke-width="1.0" stroke-linecap="butt"/>
<rect x="235.80" y="617.49" width="10.50" height="33.01" fill="#c1c1c6"/>
<line x1="241.05" y1="617.79" x2="241.05" y2="609.67" stroke="#262c35" stroke-width="1.0" stroke-linecap="butt"/>
<line x1="238.65" y1="609.67" x2="243.45" y2="609.67" stroke="#262c35" stroke-width="1.0" stroke-linecap="butt"/>
<line x1="174.10" y1="577.90" x2="174.10" y2="651.05" stroke="#0d0d0d" stroke-width="1.15" stroke-linecap="butt"/>
<line x1="173.55" y1="650.50" x2="251.30" y2="650.50" stroke="#0d0d0d" stroke-width="1.15" stroke-linecap="butt"/>
<line x1="170.20" y1="650.50" x2="174.10" y2="650.50" stroke="#111" stroke-width="1.0" stroke-linecap="butt"/>
<text x="167.20" y="653.00" font-size="6.9" text-anchor="end" fill="#222" font-weight="normal" stroke="#111" stroke-width="0.15">0</text>
<line x1="170.20" y1="636.66" x2="174.10" y2="636.66" stroke="#111" stroke-width="1.0" stroke-linecap="butt"/>
<text x="167.20" y="639.16" font-size="6.9" text-anchor="end" fill="#222" font-weight="normal" stroke="#111" stroke-width="0.15">20</text>
<line x1="170.20" y1="622.82" x2="174.10" y2="622.82" stroke="#111" stroke-width="1.0" stroke-linecap="butt"/>
<text x="167.20" y="625.32" font-size="6.9" text-anchor="end" fill="#222" font-weight="normal" stroke="#111" stroke-width="0.15">40</text>
<line x1="170.20" y1="608.98" x2="174.10" y2="608.98" stroke="#111" stroke-width="1.0" stroke-linecap="butt"/>
<text x="167.20" y="611.48" font-size="6.9" text-anchor="end" fill="#222" font-weight="normal" stroke="#111" stroke-width="0.15">60</text>
<line x1="170.20" y1="595.14" x2="174.10" y2="595.14" stroke="#111" stroke-width="1.0" stroke-linecap="butt"/>
<text x="167.20" y="597.64" font-size="6.9" text-anchor="end" fill="#222" font-weight="normal" stroke="#111" stroke-width="0.15">80</text>
<line x1="170.20" y1="581.30" x2="174.10" y2="581.30" stroke="#111" stroke-width="1.0" stroke-linecap="butt"/>
<text x="167.20" y="583.80" font-size="6.9" text-anchor="end" fill="#222" font-weight="normal" stroke="#111" stroke-width="0.15">100</text>
<line x1="191.80" y1="650.50" x2="191.80" y2="653.90" stroke="#111" stroke-width="1.0" stroke-linecap="butt"/>
<line x1="233.30" y1="650.50" x2="233.30" y2="653.90" stroke="#111" stroke-width="1.0" stroke-linecap="butt"/>
<text x="192.30" y="663.00" font-size="6.9" text-anchor="middle" fill="#222" font-weight="normal" stroke="#111" stroke-width="0.15">NT</text>
<text x="233.60" y="663.00" font-size="6.9" text-anchor="middle" fill="#222" font-weight="normal" stroke="#111" stroke-width="0.15">criz 100nM</text>
<text x="148.50" y="614.90" font-size="8.2" text-anchor="middle" fill="#222" font-weight="normal" transform="rotate(-90 148.50 614.90)" textLength="40.00" lengthAdjust="spacingAndGlyphs" stroke="#222" stroke-width="0.28">% of PI+ cells</text>
<rect x="170.90" y="674.20" width="3.20" height="3.20" fill="#38424f"/>
<text x="178.00" y="678.30" font-size="6.9" text-anchor="start" fill="#222" font-weight="normal" stroke="#111" stroke-width="0.15">DHL1</text>
<rect x="202.70" y="674.20" width="3.20" height="3.20" fill="#c1c1c6"/>
<text x="209.90" y="678.30" font-size="6.9" text-anchor="start" fill="#222" font-weight="normal" textLength="39.00" lengthAdjust="spacingAndGlyphs" stroke="#111" stroke-width="0.15">DHL1 + 75F</text>
<polyline points="184.50,638.80 184.50,573.40 199.90,573.40 199.90,633.80" fill="none" stroke="#1c1c1c" stroke-width="1.0"/>
<text x="192.20" y="568.26" font-size="6.4" text-anchor="middle" fill="#222" font-weight="normal" stroke="#111" stroke-width="0.15">ns</text>
<polyline points="225.30,577.80 225.30,573.40 241.10,573.40 241.10,605.30" fill="none" stroke="#1c1c1c" stroke-width="1.0"/>
<text x="233.49" y="572.79" font-size="5.7" text-anchor="middle" fill="#222" font-weight="normal" letter-spacing="0.38" stroke="#222" stroke-width="0.25">****</text>
<text x="139.50" y="556.20" font-size="12.6" text-anchor="start" fill="#000" font-weight="bold" stroke="#000" stroke-width="0.5" stroke-linejoin="round">I</text>
<rect x="309.50" y="644.38" width="10.00" height="6.12" fill="#445265"/>
<line x1="314.50" y1="644.68" x2="314.50" y2="642.54" stroke="#262c35" stroke-width="1.0" stroke-linecap="butt"/>
<line x1="312.10" y1="642.54" x2="316.90" y2="642.54" stroke="#262c35" stroke-width="1.0" stroke-linecap="butt"/>
<rect x="325.00" y="640.57" width="10.00" height="9.93" fill="#c1c1c6"/>
<line x1="330.00" y1="640.87" x2="330.00" y2="638.94" stroke="#262c35" stroke-width="1.0" stroke-linecap="butt"/>
<line x1="327.60" y1="638.94" x2="332.40" y2="638.94" stroke="#262c35" stroke-width="1.0" stroke-linecap="butt"/>
<rect x="350.50" y="583.86" width="10.20" height="66.64" fill="#445265"/>
<line x1="355.60" y1="584.16" x2="355.60" y2="582.50" stroke="#262c35" stroke-width="1.0" stroke-linecap="butt"/>
<line x1="353.20" y1="582.50" x2="358.00" y2="582.50" stroke="#262c35" stroke-width="1.0" stroke-linecap="butt"/>
<rect x="365.80" y="627.18" width="10.50" height="23.32" fill="#c1c1c6"/>
<line x1="371.05" y1="627.48" x2="371.05" y2="622.21" stroke="#262c35" stroke-width="1.0" stroke-linecap="butt"/>
<line x1="368.65" y1="622.21" x2="373.45" y2="622.21" stroke="#262c35" stroke-width="1.0" stroke-linecap="butt"/>
<line x1="304.10" y1="579.10" x2="304.10" y2="651.05" stroke="#0d0d0d" stroke-width="1.15" stroke-linecap="butt"/>
<line x1="303.55" y1="650.50" x2="381.30" y2="650.50" stroke="#0d0d0d" stroke-width="1.15" stroke-linecap="butt"/>
<line x1="300.20" y1="650.50" x2="304.10" y2="650.50" stroke="#111" stroke-width="1.0" stroke-linecap="butt"/>
<text x="297.20" y="653.00" font-size="6.9" text-anchor="end" fill="#222" font-weight="normal" stroke="#111" stroke-width="0.15">0</text>
<line x1="300.20" y1="636.90" x2="304.10" y2="636.90" stroke="#111" stroke-width="1.0" stroke-linecap="butt"/>
<text x="297.20" y="639.40" font-size="6.9" text-anchor="end" fill="#222" font-weight="normal" stroke="#111" stroke-width="0.15">20</text>
<line x1="300.20" y1="623.30" x2="304.10" y2="623.30" stroke="#111" stroke-width="1.0" stroke-linecap="butt"/>
<text x="297.20" y="625.80" font-size="6.9" text-anchor="end" fill="#222" font-weight="normal" stroke="#111" stroke-width="0.15">40</text>
<line x1="300.20" y1="609.70" x2="304.10" y2="609.70" stroke="#111" stroke-width="1.0" stroke-linecap="butt"/>
<text x="297.20" y="612.20" font-size="6.9" text-anchor="end" fill="#222" font-weight="normal" stroke="#111" stroke-width="0.15">60</text>
<line x1="300.20" y1="596.10" x2="304.10" y2="596.10" stroke="#111" stroke-width="1.0" stroke-linecap="butt"/>
<text x="297.20" y="598.60" font-size="6.9" text-anchor="end" fill="#222" font-weight="normal" stroke="#111" stroke-width="0.15">80</text>
<line x1="300.20" y1="582.50" x2="304.10" y2="582.50" stroke="#111" stroke-width="1.0" stroke-linecap="butt"/>
<text x="297.20" y="585.00" font-size="6.9" text-anchor="end" fill="#222" font-weight="normal" stroke="#111" stroke-width="0.15">100</text>
<line x1="322.00" y1="650.50" x2="322.00" y2="653.90" stroke="#111" stroke-width="1.0" stroke-linecap="butt"/>
<line x1="363.30" y1="650.50" x2="363.30" y2="653.90" stroke="#111" stroke-width="1.0" stroke-linecap="butt"/>
<text x="322.00" y="663.00" font-size="6.9" text-anchor="middle" fill="#222" font-weight="normal" stroke="#111" stroke-width="0.15">NT</text>
<text x="363.40" y="663.00" font-size="6.9" text-anchor="middle" fill="#222" font-weight="normal" stroke="#111" stroke-width="0.15">criz 100nM</text>
<text x="278.50" y="614.90" font-size="8.2" text-anchor="middle" fill="#222" font-weight="normal" transform="rotate(-90 278.50 614.90)" textLength="40.00" lengthAdjust="spacingAndGlyphs" stroke="#222" stroke-width="0.28">% of PI+ cells</text>
<rect x="303.40" y="674.20" width="3.20" height="3.20" fill="#38424f"/>
<text x="310.00" y="678.30" font-size="6.9" text-anchor="start" fill="#222" font-weight="normal" stroke="#111" stroke-width="0.15">DHL1</text>
<rect x="334.70" y="674.20" width="3.20" height="3.20" fill="#c1c1c6"/>
<text x="341.50" y="678.30" font-size="6.9" text-anchor="start" fill="#222" font-weight="normal" textLength="41.30" lengthAdjust="spacingAndGlyphs" stroke="#111" stroke-width="0.15">DHL1 + HS5</text>
<polyline points="314.50,641.50 314.50,574.30 330.50,574.30 330.50,635.80" fill="none" stroke="#1c1c1c" stroke-width="1.0"/>
<text x="322.20" y="569.06" font-size="6.4" text-anchor="middle" fill="#222" font-weight="normal" stroke="#111" stroke-width="0.15">ns</text>
<polyline points="355.30,577.80 355.30,574.30 371.10,574.30 371.10,619.50" fill="none" stroke="#1c1c1c" stroke-width="1.0"/>
<text x="363.49" y="573.79" font-size="5.7" text-anchor="middle" fill="#222" font-weight="normal" letter-spacing="0.38" stroke="#222" stroke-width="0.25">***</text>
<text x="270.00" y="556.20" font-size="12.6" text-anchor="start" fill="#000" font-weight="bold" stroke="#000" stroke-width="0.5" stroke-linejoin="round">J</text>
<rect x="437.50" y="645.48" width="10.50" height="5.02" fill="#445265"/>
<line x1="442.75" y1="645.78" x2="442.75" y2="643.76" stroke="#262c35" stroke-width="1.0" stroke-linecap="butt"/>
<line x1="440.35" y1="643.76" x2="445.15" y2="643.76" stroke="#262c35" stroke-width="1.0" stroke-linecap="butt"/>
<rect x="453.30" y="637.02" width="10.50" height="13.48" fill="#c1c1c6"/>
<line x1="458.55" y1="637.32" x2="458.55" y2="630.50" stroke="#262c35" stroke-width="1.0" stroke-linecap="butt"/>
<line x1="456.15" y1="630.50" x2="460.95" y2="630.50" stroke="#262c35" stroke-width="1.0" stroke-linecap="butt"/>
<rect x="480.50" y="608.77" width="10.30" height="41.73" fill="#445265"/>
<line x1="485.65" y1="609.07" x2="485.65" y2="602.53" stroke="#262c35" stroke-width="1.0" stroke-linecap="butt"/>
<line x1="483.25" y1="602.53" x2="488.05" y2="602.53" stroke="#262c35" stroke-width="1.0" stroke-linecap="butt"/>
<rect x="496.30" y="625.05" width="10.50" height="25.45" fill="#c1c1c6"/>
<line x1="501.55" y1="625.35" x2="501.55" y2="622.54" stroke="#262c35" stroke-width="1.0" stroke-linecap="butt"/>
<line x1="499.15" y1="622.54" x2="503.95" y2="622.54" stroke="#262c35" stroke-width="1.0" stroke-linecap="butt"/>
<line x1="432.00" y1="575.40" x2="432.00" y2="651.05" stroke="#0d0d0d" stroke-width="1.15" stroke-linecap="butt"/>
<line x1="431.45" y1="650.50" x2="511.90" y2="650.50" stroke="#0d0d0d" stroke-width="1.15" stroke-linecap="butt"/>
<line x1="428.10" y1="650.50" x2="432.00" y2="650.50" stroke="#111" stroke-width="1.0" stroke-linecap="butt"/>
<text x="425.10" y="653.00" font-size="6.9" text-anchor="end" fill="#222" font-weight="normal" stroke="#111" stroke-width="0.15">0</text>
<line x1="428.10" y1="636.16" x2="432.00" y2="636.16" stroke="#111" stroke-width="1.0" stroke-linecap="butt"/>
<text x="425.10" y="638.66" font-size="6.9" text-anchor="end" fill="#222" font-weight="normal" stroke="#111" stroke-width="0.15">20</text>
<line x1="428.10" y1="621.82" x2="432.00" y2="621.82" stroke="#111" stroke-width="1.0" stroke-linecap="butt"/>
<text x="425.10" y="624.32" font-size="6.9" text-anchor="end" fill="#222" font-weight="normal" stroke="#111" stroke-width="0.15">40</text>
<line x1="428.10" y1="607.48" x2="432.00" y2="607.48" stroke="#111" stroke-width="1.0" stroke-linecap="butt"/>
<text x="425.10" y="609.98" font-size="6.9" text-anchor="end" fill="#222" font-weight="normal" stroke="#111" stroke-width="0.15">60</text>
<line x1="428.10" y1="593.14" x2="432.00" y2="593.14" stroke="#111" stroke-width="1.0" stroke-linecap="butt"/>
<text x="425.10" y="595.64" font-size="6.9" text-anchor="end" fill="#222" font-weight="normal" stroke="#111" stroke-width="0.15">80</text>
<line x1="428.10" y1="578.80" x2="432.00" y2="578.80" stroke="#111" stroke-width="1.0" stroke-linecap="butt"/>
<text x="425.10" y="581.30" font-size="6.9" text-anchor="end" fill="#222" font-weight="normal" stroke="#111" stroke-width="0.15">100</text>
<line x1="450.80" y1="650.50" x2="450.80" y2="653.90" stroke="#111" stroke-width="1.0" stroke-linecap="butt"/>
<line x1="493.60" y1="650.50" x2="493.60" y2="653.90" stroke="#111" stroke-width="1.0" stroke-linecap="butt"/>
<text x="450.80" y="663.00" font-size="6.9" text-anchor="middle" fill="#222" font-weight="normal" stroke="#111" stroke-width="0.15">NT</text>
<text x="493.80" y="663.00" font-size="6.9" text-anchor="middle" fill="#222" font-weight="normal" stroke="#111" stroke-width="0.15">criz 500nM</text>
<text x="406.00" y="613.00" font-size="8.2" text-anchor="middle" fill="#222" font-weight="normal" transform="rotate(-90 406.00 613.00)" textLength="40.40" lengthAdjust="spacingAndGlyphs" stroke="#222" stroke-width="0.28">% of PI+ cells</text>
<rect x="435.90" y="674.20" width="3.20" height="3.20" fill="#38424f"/>
<text x="442.60" y="678.30" font-size="6.9" text-anchor="start" fill="#222" font-weight="normal" textLength="14.20" lengthAdjust="spacingAndGlyphs" stroke="#111" stroke-width="0.15">IL69</text>
<rect x="463.40" y="674.20" width="3.20" height="3.20" fill="#c1c1c6"/>
<text x="469.90" y="678.30" font-size="6.9" text-anchor="start" fill="#222" font-weight="normal" textLength="38.70" lengthAdjust="spacingAndGlyphs" stroke="#111" stroke-width="0.15">IL69 + HS-5</text>
<polyline points="442.40,641.30 442.40,594.30 458.60,594.30 458.60,627.50" fill="none" stroke="#1c1c1c" stroke-width="1.0"/>
<text x="449.30" y="590.66" font-size="6.4" text-anchor="middle" fill="#222" font-weight="normal" stroke="#111" stroke-width="0.15">ns</text>
<polyline points="485.50,600.00 485.50,594.30 501.50,594.30 501.50,617.80" fill="none" stroke="#1c1c1c" stroke-width="1.0"/>
<text x="494.99" y="591.79" font-size="5.7" text-anchor="middle" fill="#222" font-weight="normal" letter-spacing="0.38" stroke="#222" stroke-width="0.25">**</text>
<text x="399.00" y="556.20" font-size="12.6" text-anchor="start" fill="#000" font-weight="bold" stroke="#000" stroke-width="0.5" stroke-linejoin="round">K</text>
<rect x="0.55" y="0.55" width="518.9" height="685.9" fill="none" stroke="#525252" stroke-width="1.1"/>
</svg>
</body></html>
